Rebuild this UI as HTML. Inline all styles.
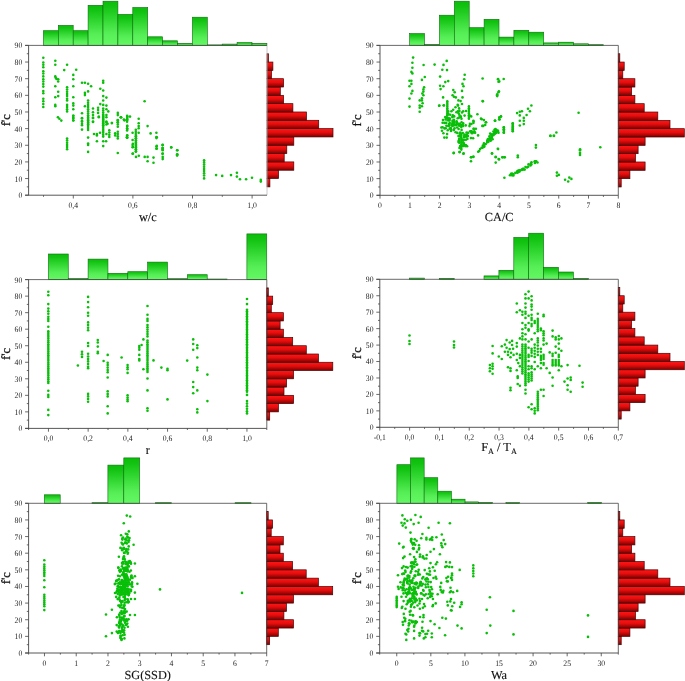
<!DOCTYPE html>
<html><head><meta charset="utf-8"><title>f'c scatter matrix</title>
<style>html,body{margin:0;padding:0;background:#fff}body{width:685px;height:681px;overflow:hidden}svg{display:block}</style>
</head><body>
<svg width="685" height="681" viewBox="0 0 685 681" text-rendering="geometricPrecision" font-family="'Liberation Serif','DejaVu Serif',serif">
<defs>
<linearGradient id="gg" x1="0" y1="0" x2="0" y2="1"><stop offset="0" stop-color="#0bbd0b"/><stop offset="0.12" stop-color="#12c312"/><stop offset="0.72" stop-color="#56ee56"/><stop offset="1" stop-color="#64f864"/></linearGradient>
<linearGradient id="rg" x1="0" y1="0" x2="0" y2="1"><stop offset="0" stop-color="#ff1717"/><stop offset="0.45" stop-color="#e60d0d"/><stop offset="1" stop-color="#7c0000"/></linearGradient>
</defs>
<rect width="685" height="681" fill="#fff"/>
<g id="p1"><rect x="43.40" y="30.70" width="14.90" height="14.70" fill="url(#gg)" stroke="#0a6e0a" stroke-width="0.6"/>
<rect x="58.30" y="25.40" width="14.90" height="20.00" fill="url(#gg)" stroke="#0a6e0a" stroke-width="0.6"/>
<rect x="73.20" y="30.70" width="14.90" height="14.70" fill="url(#gg)" stroke="#0a6e0a" stroke-width="0.6"/>
<rect x="88.10" y="5.30" width="14.90" height="40.10" fill="url(#gg)" stroke="#0a6e0a" stroke-width="0.6"/>
<rect x="103.00" y="1.20" width="14.90" height="44.20" fill="url(#gg)" stroke="#0a6e0a" stroke-width="0.6"/>
<rect x="117.90" y="14.40" width="14.90" height="31.00" fill="url(#gg)" stroke="#0a6e0a" stroke-width="0.6"/>
<rect x="132.80" y="7.50" width="14.90" height="37.90" fill="url(#gg)" stroke="#0a6e0a" stroke-width="0.6"/>
<rect x="147.70" y="36.80" width="14.90" height="8.60" fill="url(#gg)" stroke="#0a6e0a" stroke-width="0.6"/>
<rect x="162.60" y="40.80" width="14.90" height="4.60" fill="url(#gg)" stroke="#0a6e0a" stroke-width="0.6"/>
<rect x="177.50" y="43.30" width="14.90" height="2.10" fill="url(#gg)" stroke="#0a6e0a" stroke-width="0.6"/>
<rect x="192.40" y="17.20" width="14.90" height="28.20" fill="url(#gg)" stroke="#0a6e0a" stroke-width="0.6"/>
<rect x="207.30" y="44.90" width="14.90" height="0.50" fill="url(#gg)" stroke="#0a6e0a" stroke-width="0.6"/>
<rect x="222.20" y="44.10" width="14.90" height="1.30" fill="url(#gg)" stroke="#0a6e0a" stroke-width="0.6"/>
<rect x="237.10" y="42.60" width="14.90" height="2.80" fill="url(#gg)" stroke="#0a6e0a" stroke-width="0.6"/>
<rect x="252.00" y="43.30" width="14.90" height="2.10" fill="url(#gg)" stroke="#0a6e0a" stroke-width="0.6"/>
<rect x="267.00" y="178.56" width="2.90" height="8.32" fill="url(#rg)" stroke="#4a0000" stroke-width="0.7"/>
<rect x="267.00" y="170.23" width="11.60" height="8.32" fill="url(#rg)" stroke="#4a0000" stroke-width="0.7"/>
<rect x="267.00" y="161.91" width="26.80" height="8.32" fill="url(#rg)" stroke="#4a0000" stroke-width="0.7"/>
<rect x="267.00" y="153.59" width="17.20" height="8.32" fill="url(#rg)" stroke="#4a0000" stroke-width="0.7"/>
<rect x="267.00" y="145.27" width="19.80" height="8.32" fill="url(#rg)" stroke="#4a0000" stroke-width="0.7"/>
<rect x="267.00" y="136.94" width="26.80" height="8.32" fill="url(#rg)" stroke="#4a0000" stroke-width="0.7"/>
<rect x="267.00" y="128.62" width="66.00" height="8.32" fill="url(#rg)" stroke="#4a0000" stroke-width="0.7"/>
<rect x="267.00" y="120.30" width="51.70" height="8.32" fill="url(#rg)" stroke="#4a0000" stroke-width="0.7"/>
<rect x="267.00" y="111.98" width="39.50" height="8.32" fill="url(#rg)" stroke="#4a0000" stroke-width="0.7"/>
<rect x="267.00" y="103.66" width="25.90" height="8.32" fill="url(#rg)" stroke="#4a0000" stroke-width="0.7"/>
<rect x="267.00" y="95.33" width="16.60" height="8.32" fill="url(#rg)" stroke="#4a0000" stroke-width="0.7"/>
<rect x="267.00" y="87.01" width="13.30" height="8.32" fill="url(#rg)" stroke="#4a0000" stroke-width="0.7"/>
<rect x="267.00" y="78.69" width="16.60" height="8.32" fill="url(#rg)" stroke="#4a0000" stroke-width="0.7"/>
<rect x="267.00" y="70.37" width="4.50" height="8.32" fill="url(#rg)" stroke="#4a0000" stroke-width="0.7"/>
<rect x="267.00" y="62.04" width="5.90" height="8.32" fill="url(#rg)" stroke="#4a0000" stroke-width="0.7"/>
<rect x="267.00" y="53.72" width="1.50" height="8.32" fill="url(#rg)" stroke="#4a0000" stroke-width="0.7"/>
<path d="M267.00 45.40V195.20" stroke="#bdbdbd" stroke-width="0.8" fill="none"/>
<path d="M25.10 45.40H267.00" stroke="#444" stroke-width="0.8" fill="none"/>
<path d="M28.60 45.40V195.20M25.10 195.20H267.00" stroke="#444" stroke-width="0.9" fill="none"/>
<path d="M25.10 195.20H28.60M26.80 186.88H28.60M25.10 178.56H28.60M26.80 170.23H28.60M25.10 161.91H28.60M26.80 153.59H28.60M25.10 145.27H28.60M26.80 136.94H28.60M25.10 128.62H28.60M26.80 120.30H28.60M25.10 111.98H28.60M26.80 103.66H28.60M25.10 95.33H28.60M26.80 87.01H28.60M25.10 78.69H28.60M26.80 70.37H28.60M25.10 62.04H28.60M26.80 53.72H28.60M25.10 45.40H28.60M73.30 195.20v3.3M132.90 195.20v3.3M192.50 195.20v3.3M252.10 195.20v3.3M43.50 195.20v1.6M103.10 195.20v1.6M162.70 195.20v1.6M222.30 195.20v1.6" stroke="#444" stroke-width="0.8" fill="none"/>
<g font-size="8.35" fill="#1a1a1a"><text transform="translate(22.30 198.15) scale(0.92 1)" text-anchor="end">0</text><text transform="translate(22.30 181.51) scale(0.92 1)" text-anchor="end">10</text><text transform="translate(22.30 164.86) scale(0.92 1)" text-anchor="end">20</text><text transform="translate(22.30 148.22) scale(0.92 1)" text-anchor="end">30</text><text transform="translate(22.30 131.57) scale(0.92 1)" text-anchor="end">40</text><text transform="translate(22.30 114.93) scale(0.92 1)" text-anchor="end">50</text><text transform="translate(22.30 98.28) scale(0.92 1)" text-anchor="end">60</text><text transform="translate(22.30 81.64) scale(0.92 1)" text-anchor="end">70</text><text transform="translate(22.30 64.99) scale(0.92 1)" text-anchor="end">80</text><text transform="translate(22.30 48.35) scale(0.92 1)" text-anchor="end">90</text><text transform="translate(73.30 208.10) scale(0.92 1)" text-anchor="middle">0,4</text><text transform="translate(132.90 208.10) scale(0.92 1)" text-anchor="middle">0,6</text><text transform="translate(192.50 208.10) scale(0.92 1)" text-anchor="middle">0,8</text><text transform="translate(252.10 208.10) scale(0.92 1)" text-anchor="middle">1,0</text></g>
<text x="147.80" y="220.90" text-anchor="middle" font-size="12.3" fill="#111" stroke="#111" stroke-width="0.12">w/c</text>
<text transform="translate(10.00 120.30) rotate(-90)" text-anchor="middle" font-size="12.6" fill="#111" stroke="#111" stroke-width="0.25">f'c</text>
<g fill="#09bf09"><circle cx="43.3" cy="57.7" r="1.3"/><circle cx="43.3" cy="62.5" r="1.3"/><circle cx="43.3" cy="64.7" r="1.3"/><circle cx="43.3" cy="67.2" r="1.3"/><circle cx="43.3" cy="71.3" r="1.3"/><circle cx="43.3" cy="73.5" r="1.3"/><circle cx="43.3" cy="76.4" r="1.3"/><circle cx="43.3" cy="79.3" r="1.3"/><circle cx="43.3" cy="81.5" r="1.3"/><circle cx="43.3" cy="84.1" r="1.3"/><circle cx="43.3" cy="86.6" r="1.3"/><circle cx="43.3" cy="91.0" r="1.3"/><circle cx="43.3" cy="93.2" r="1.3"/><circle cx="43.3" cy="98.7" r="1.3"/><circle cx="43.3" cy="101.2" r="1.3"/><circle cx="43.3" cy="104.1" r="1.3"/><circle cx="43.3" cy="107.0" r="1.3"/><circle cx="55.3" cy="60.8" r="1.3"/><circle cx="55.3" cy="64.7" r="1.3"/><circle cx="55.3" cy="76.4" r="1.3"/><circle cx="55.7" cy="77.8" r="1.3"/><circle cx="55.3" cy="86.3" r="1.3"/><circle cx="55.3" cy="97.3" r="1.3"/><circle cx="55.3" cy="104.9" r="1.3"/><circle cx="55.3" cy="106.3" r="1.3"/><circle cx="56.5" cy="78.9" r="1.3"/><circle cx="58.2" cy="79.3" r="1.3"/><circle cx="58.2" cy="81.5" r="1.3"/><circle cx="58.2" cy="91.7" r="1.3"/><circle cx="58.2" cy="96.1" r="1.3"/><circle cx="57.9" cy="117.3" r="1.3"/><circle cx="59.4" cy="118.7" r="1.3"/><circle cx="61.3" cy="120.6" r="1.3"/><circle cx="67.1" cy="64.7" r="1.3"/><circle cx="64.2" cy="70.1" r="1.3"/><circle cx="67.1" cy="87.3" r="1.3"/><circle cx="67.1" cy="89.5" r="1.3"/><circle cx="67.1" cy="91.7" r="1.3"/><circle cx="67.1" cy="93.9" r="1.3"/><circle cx="67.1" cy="96.1" r="1.3"/><circle cx="67.1" cy="98.7" r="1.3"/><circle cx="67.1" cy="100.5" r="1.3"/><circle cx="67.1" cy="104.9" r="1.3"/><circle cx="67.1" cy="107.0" r="1.3"/><circle cx="67.1" cy="109.2" r="1.3"/><circle cx="67.1" cy="111.4" r="1.3"/><circle cx="73.3" cy="74.9" r="1.3"/><circle cx="73.3" cy="79.3" r="1.3"/><circle cx="73.3" cy="86.3" r="1.3"/><circle cx="73.3" cy="97.3" r="1.3"/><circle cx="73.3" cy="103.4" r="1.3"/><circle cx="73.3" cy="105.6" r="1.3"/><circle cx="73.3" cy="109.2" r="1.3"/><circle cx="73.3" cy="115.8" r="1.3"/><circle cx="73.3" cy="118.0" r="1.3"/><circle cx="73.3" cy="120.2" r="1.3"/><circle cx="76.2" cy="69.8" r="1.3"/><circle cx="82.0" cy="82.7" r="1.3"/><circle cx="84.9" cy="82.7" r="1.3"/><circle cx="88.1" cy="83.7" r="1.3"/><circle cx="91.1" cy="86.3" r="1.3"/><circle cx="84.9" cy="92.9" r="1.3"/><circle cx="84.9" cy="95.1" r="1.3"/><circle cx="88.1" cy="91.4" r="1.3"/><circle cx="88.1" cy="100.5" r="1.3"/><circle cx="88.1" cy="102.7" r="1.3"/><circle cx="88.1" cy="104.9" r="1.3"/><circle cx="88.1" cy="107.0" r="1.3"/><circle cx="88.1" cy="109.2" r="1.3"/><circle cx="88.1" cy="111.4" r="1.3"/><circle cx="88.1" cy="113.6" r="1.3"/><circle cx="88.1" cy="115.8" r="1.3"/><circle cx="88.1" cy="118.0" r="1.3"/><circle cx="88.1" cy="120.2" r="1.3"/><circle cx="88.1" cy="122.4" r="1.3"/><circle cx="88.1" cy="124.6" r="1.3"/><circle cx="84.9" cy="106.3" r="1.3"/><circle cx="82.0" cy="113.3" r="1.3"/><circle cx="82.0" cy="118.0" r="1.3"/><circle cx="82.0" cy="120.9" r="1.3"/><circle cx="82.0" cy="123.8" r="1.3"/><circle cx="93.0" cy="108.5" r="1.3"/><circle cx="93.0" cy="112.2" r="1.3"/><circle cx="93.0" cy="115.1" r="1.3"/><circle cx="93.0" cy="118.0" r="1.3"/><circle cx="93.0" cy="121.6" r="1.3"/><circle cx="103.2" cy="80.8" r="1.3"/><circle cx="103.2" cy="82.7" r="1.3"/><circle cx="100.3" cy="88.8" r="1.3"/><circle cx="103.2" cy="90.5" r="1.3"/><circle cx="103.2" cy="96.1" r="1.3"/><circle cx="106.4" cy="97.6" r="1.3"/><circle cx="103.2" cy="100.5" r="1.3"/><circle cx="100.3" cy="104.1" r="1.3"/><circle cx="103.2" cy="104.9" r="1.3"/><circle cx="106.4" cy="105.6" r="1.3"/><circle cx="103.2" cy="108.5" r="1.3"/><circle cx="103.2" cy="110.5" r="1.3"/><circle cx="103.2" cy="112.6" r="1.3"/><circle cx="103.2" cy="114.6" r="1.3"/><circle cx="103.2" cy="116.7" r="1.3"/><circle cx="103.2" cy="118.7" r="1.3"/><circle cx="103.2" cy="120.8" r="1.3"/><circle cx="103.2" cy="122.8" r="1.3"/><circle cx="103.2" cy="124.9" r="1.3"/><circle cx="106.4" cy="109.2" r="1.3"/><circle cx="108.3" cy="111.4" r="1.3"/><circle cx="98.1" cy="107.8" r="1.3"/><circle cx="98.1" cy="110.0" r="1.3"/><circle cx="98.1" cy="112.9" r="1.3"/><circle cx="98.8" cy="116.5" r="1.3"/><circle cx="106.4" cy="115.1" r="1.3"/><circle cx="106.4" cy="117.3" r="1.3"/><circle cx="106.4" cy="121.6" r="1.3"/><circle cx="107.6" cy="123.8" r="1.3"/><circle cx="117.8" cy="112.9" r="1.3"/><circle cx="117.8" cy="115.1" r="1.3"/><circle cx="121.0" cy="117.3" r="1.3"/><circle cx="124.4" cy="120.2" r="1.3"/><circle cx="127.3" cy="116.5" r="1.3"/><circle cx="117.8" cy="120.2" r="1.3"/><circle cx="117.8" cy="122.4" r="1.3"/><circle cx="111.9" cy="123.1" r="1.3"/><circle cx="73.3" cy="115.7" r="1.3"/><circle cx="73.3" cy="117.9" r="1.3"/><circle cx="73.3" cy="120.5" r="1.3"/><circle cx="82.0" cy="118.2" r="1.3"/><circle cx="82.0" cy="121.6" r="1.3"/><circle cx="82.0" cy="125.2" r="1.3"/><circle cx="82.0" cy="129.6" r="1.3"/><circle cx="88.1" cy="115.7" r="1.3"/><circle cx="88.1" cy="117.8" r="1.3"/><circle cx="88.1" cy="119.8" r="1.3"/><circle cx="88.1" cy="121.9" r="1.3"/><circle cx="88.1" cy="123.9" r="1.3"/><circle cx="88.1" cy="125.9" r="1.3"/><circle cx="88.1" cy="128.0" r="1.3"/><circle cx="88.1" cy="130.0" r="1.3"/><circle cx="88.1" cy="137.6" r="1.3"/><circle cx="88.1" cy="143.5" r="1.3"/><circle cx="88.1" cy="144.9" r="1.3"/><circle cx="88.1" cy="151.9" r="1.3"/><circle cx="67.1" cy="138.6" r="1.3"/><circle cx="67.1" cy="140.5" r="1.3"/><circle cx="67.1" cy="142.7" r="1.3"/><circle cx="67.1" cy="144.9" r="1.3"/><circle cx="67.1" cy="147.1" r="1.3"/><circle cx="67.1" cy="149.3" r="1.3"/><circle cx="93.0" cy="117.9" r="1.3"/><circle cx="93.0" cy="122.0" r="1.3"/><circle cx="98.8" cy="117.2" r="1.3"/><circle cx="103.2" cy="115.7" r="1.3"/><circle cx="103.2" cy="117.6" r="1.3"/><circle cx="103.2" cy="119.5" r="1.3"/><circle cx="103.2" cy="121.4" r="1.3"/><circle cx="103.2" cy="123.3" r="1.3"/><circle cx="103.2" cy="125.2" r="1.3"/><circle cx="103.2" cy="127.1" r="1.3"/><circle cx="103.2" cy="129.0" r="1.3"/><circle cx="103.2" cy="130.9" r="1.3"/><circle cx="103.2" cy="132.8" r="1.3"/><circle cx="103.2" cy="134.7" r="1.3"/><circle cx="103.2" cy="136.6" r="1.3"/><circle cx="103.2" cy="141.3" r="1.3"/><circle cx="106.1" cy="141.3" r="1.3"/><circle cx="103.2" cy="146.1" r="1.3"/><circle cx="106.4" cy="122.3" r="1.3"/><circle cx="106.4" cy="124.5" r="1.3"/><circle cx="111.9" cy="123.0" r="1.3"/><circle cx="94.0" cy="134.0" r="1.3"/><circle cx="96.9" cy="134.0" r="1.3"/><circle cx="96.9" cy="135.4" r="1.3"/><circle cx="100.0" cy="132.8" r="1.3"/><circle cx="96.9" cy="141.3" r="1.3"/><circle cx="106.4" cy="134.0" r="1.3"/><circle cx="109.3" cy="130.3" r="1.3"/><circle cx="109.3" cy="132.5" r="1.3"/><circle cx="109.3" cy="134.7" r="1.3"/><circle cx="109.3" cy="136.9" r="1.3"/><circle cx="115.2" cy="133.2" r="1.3"/><circle cx="115.2" cy="135.4" r="1.3"/><circle cx="117.8" cy="120.1" r="1.3"/><circle cx="117.8" cy="122.3" r="1.3"/><circle cx="117.8" cy="124.5" r="1.3"/><circle cx="117.8" cy="126.7" r="1.3"/><circle cx="117.8" cy="131.8" r="1.3"/><circle cx="117.8" cy="134.0" r="1.3"/><circle cx="117.8" cy="136.2" r="1.3"/><circle cx="117.8" cy="138.4" r="1.3"/><circle cx="117.8" cy="153.0" r="1.3"/><circle cx="121.0" cy="117.2" r="1.3"/><circle cx="124.4" cy="120.1" r="1.3"/><circle cx="127.3" cy="117.9" r="1.3"/><circle cx="127.3" cy="120.1" r="1.3"/><circle cx="127.3" cy="125.9" r="1.3"/><circle cx="127.3" cy="128.9" r="1.3"/><circle cx="127.3" cy="135.4" r="1.3"/><circle cx="127.3" cy="137.6" r="1.3"/><circle cx="144.6" cy="101.3" r="1.3"/><circle cx="120.9" cy="117.3" r="1.3"/><circle cx="123.8" cy="119.5" r="1.3"/><circle cx="127.1" cy="115.9" r="1.3"/><circle cx="127.1" cy="119.5" r="1.3"/><circle cx="127.1" cy="121.7" r="1.3"/><circle cx="127.1" cy="126.1" r="1.3"/><circle cx="127.1" cy="128.3" r="1.3"/><circle cx="127.1" cy="130.5" r="1.3"/><circle cx="127.1" cy="135.6" r="1.3"/><circle cx="127.1" cy="137.8" r="1.3"/><circle cx="130.0" cy="116.6" r="1.3"/><circle cx="138.7" cy="118.8" r="1.3"/><circle cx="138.7" cy="123.2" r="1.3"/><circle cx="138.7" cy="126.1" r="1.3"/><circle cx="138.7" cy="128.3" r="1.3"/><circle cx="138.7" cy="132.7" r="1.3"/><circle cx="135.8" cy="129.7" r="1.3"/><circle cx="135.8" cy="131.9" r="1.3"/><circle cx="135.8" cy="134.1" r="1.3"/><circle cx="135.8" cy="136.3" r="1.3"/><circle cx="135.8" cy="138.5" r="1.3"/><circle cx="135.8" cy="140.7" r="1.3"/><circle cx="135.8" cy="142.9" r="1.3"/><circle cx="135.8" cy="145.1" r="1.3"/><circle cx="135.8" cy="147.3" r="1.3"/><circle cx="135.8" cy="149.5" r="1.3"/><circle cx="135.8" cy="151.6" r="1.3"/><circle cx="132.6" cy="132.7" r="1.3"/><circle cx="132.6" cy="140.0" r="1.3"/><circle cx="132.6" cy="145.1" r="1.3"/><circle cx="132.6" cy="147.3" r="1.3"/><circle cx="132.6" cy="153.8" r="1.3"/><circle cx="147.6" cy="126.1" r="1.3"/><circle cx="150.6" cy="133.4" r="1.3"/><circle cx="156.4" cy="132.7" r="1.3"/><circle cx="156.4" cy="137.0" r="1.3"/><circle cx="156.4" cy="138.1" r="1.3"/><circle cx="156.4" cy="146.5" r="1.3"/><circle cx="156.4" cy="148.7" r="1.3"/><circle cx="162.5" cy="145.1" r="1.3"/><circle cx="162.5" cy="148.0" r="1.3"/><circle cx="162.5" cy="149.5" r="1.3"/><circle cx="162.5" cy="153.8" r="1.3"/><circle cx="171.3" cy="147.3" r="1.3"/><circle cx="177.4" cy="150.2" r="1.3"/><circle cx="177.4" cy="154.6" r="1.3"/><circle cx="126.8" cy="137.2" r="1.3"/><circle cx="132.9" cy="143.8" r="1.3"/><circle cx="132.9" cy="147.0" r="1.3"/><circle cx="132.9" cy="153.6" r="1.3"/><circle cx="136.0" cy="156.9" r="1.3"/><circle cx="138.8" cy="155.8" r="1.3"/><circle cx="144.7" cy="156.9" r="1.3"/><circle cx="147.6" cy="156.9" r="1.3"/><circle cx="147.6" cy="161.3" r="1.3"/><circle cx="153.5" cy="157.6" r="1.3"/><circle cx="153.5" cy="162.8" r="1.3"/><circle cx="156.8" cy="137.2" r="1.3"/><circle cx="156.8" cy="145.9" r="1.3"/><circle cx="156.8" cy="148.6" r="1.3"/><circle cx="162.7" cy="144.9" r="1.3"/><circle cx="162.7" cy="148.1" r="1.3"/><circle cx="162.7" cy="150.3" r="1.3"/><circle cx="162.7" cy="153.6" r="1.3"/><circle cx="162.7" cy="156.9" r="1.3"/><circle cx="162.7" cy="159.1" r="1.3"/><circle cx="171.2" cy="147.5" r="1.3"/><circle cx="177.1" cy="150.3" r="1.3"/><circle cx="177.1" cy="154.3" r="1.3"/><circle cx="177.1" cy="155.6" r="1.3"/><circle cx="204.1" cy="160.2" r="1.3"/><circle cx="204.1" cy="162.4" r="1.3"/><circle cx="204.1" cy="164.6" r="1.3"/><circle cx="204.1" cy="166.7" r="1.3"/><circle cx="204.1" cy="168.9" r="1.3"/><circle cx="204.1" cy="171.1" r="1.3"/><circle cx="204.1" cy="173.3" r="1.3"/><circle cx="204.1" cy="175.5" r="1.3"/><circle cx="204.1" cy="178.4" r="1.3"/><circle cx="216.1" cy="175.1" r="1.3"/><circle cx="222.2" cy="175.9" r="1.3"/><circle cx="231.0" cy="175.1" r="1.3"/><circle cx="236.9" cy="172.7" r="1.3"/><circle cx="236.9" cy="176.6" r="1.3"/><circle cx="240.0" cy="179.2" r="1.3"/><circle cx="246.1" cy="179.2" r="1.3"/><circle cx="252.0" cy="177.7" r="1.3"/><circle cx="260.8" cy="179.9" r="1.3"/><circle cx="260.8" cy="181.6" r="1.3"/><circle cx="136.0" cy="136.1" r="1.3"/><circle cx="136.0" cy="138.3" r="1.3"/><circle cx="136.0" cy="140.5" r="1.3"/><circle cx="136.0" cy="142.7" r="1.3"/><circle cx="136.0" cy="144.9" r="1.3"/><circle cx="136.0" cy="147.0" r="1.3"/><circle cx="136.0" cy="149.2" r="1.3"/><circle cx="136.0" cy="151.4" r="1.3"/></g></g>
<g id="p2"><rect x="409.60" y="33.60" width="14.90" height="11.80" fill="url(#gg)" stroke="#0a6e0a" stroke-width="0.6"/>
<rect x="424.50" y="44.30" width="14.90" height="1.10" fill="url(#gg)" stroke="#0a6e0a" stroke-width="0.6"/>
<rect x="439.40" y="15.20" width="14.90" height="30.20" fill="url(#gg)" stroke="#0a6e0a" stroke-width="0.6"/>
<rect x="454.30" y="1.20" width="14.90" height="44.20" fill="url(#gg)" stroke="#0a6e0a" stroke-width="0.6"/>
<rect x="469.20" y="27.70" width="14.90" height="17.70" fill="url(#gg)" stroke="#0a6e0a" stroke-width="0.6"/>
<rect x="484.10" y="19.30" width="14.90" height="26.10" fill="url(#gg)" stroke="#0a6e0a" stroke-width="0.6"/>
<rect x="499.00" y="37.10" width="14.90" height="8.30" fill="url(#gg)" stroke="#0a6e0a" stroke-width="0.6"/>
<rect x="513.90" y="30.30" width="14.90" height="15.10" fill="url(#gg)" stroke="#0a6e0a" stroke-width="0.6"/>
<rect x="528.80" y="32.20" width="14.90" height="13.20" fill="url(#gg)" stroke="#0a6e0a" stroke-width="0.6"/>
<rect x="543.70" y="42.90" width="14.90" height="2.50" fill="url(#gg)" stroke="#0a6e0a" stroke-width="0.6"/>
<rect x="558.60" y="42.20" width="14.90" height="3.20" fill="url(#gg)" stroke="#0a6e0a" stroke-width="0.6"/>
<rect x="573.50" y="43.80" width="14.90" height="1.60" fill="url(#gg)" stroke="#0a6e0a" stroke-width="0.6"/>
<rect x="588.40" y="44.70" width="14.90" height="0.70" fill="url(#gg)" stroke="#0a6e0a" stroke-width="0.6"/>
<rect x="618.30" y="178.64" width="2.90" height="8.33" fill="url(#rg)" stroke="#4a0000" stroke-width="0.7"/>
<rect x="618.30" y="170.32" width="11.60" height="8.33" fill="url(#rg)" stroke="#4a0000" stroke-width="0.7"/>
<rect x="618.30" y="161.99" width="26.80" height="8.33" fill="url(#rg)" stroke="#4a0000" stroke-width="0.7"/>
<rect x="618.30" y="153.66" width="17.20" height="8.33" fill="url(#rg)" stroke="#4a0000" stroke-width="0.7"/>
<rect x="618.30" y="145.33" width="19.80" height="8.33" fill="url(#rg)" stroke="#4a0000" stroke-width="0.7"/>
<rect x="618.30" y="137.01" width="26.80" height="8.33" fill="url(#rg)" stroke="#4a0000" stroke-width="0.7"/>
<rect x="618.30" y="128.68" width="66.00" height="8.33" fill="url(#rg)" stroke="#4a0000" stroke-width="0.7"/>
<rect x="618.30" y="120.35" width="51.70" height="8.33" fill="url(#rg)" stroke="#4a0000" stroke-width="0.7"/>
<rect x="618.30" y="112.02" width="39.50" height="8.33" fill="url(#rg)" stroke="#4a0000" stroke-width="0.7"/>
<rect x="618.30" y="103.69" width="25.90" height="8.33" fill="url(#rg)" stroke="#4a0000" stroke-width="0.7"/>
<rect x="618.30" y="95.37" width="16.60" height="8.33" fill="url(#rg)" stroke="#4a0000" stroke-width="0.7"/>
<rect x="618.30" y="87.04" width="13.30" height="8.33" fill="url(#rg)" stroke="#4a0000" stroke-width="0.7"/>
<rect x="618.30" y="78.71" width="16.60" height="8.33" fill="url(#rg)" stroke="#4a0000" stroke-width="0.7"/>
<rect x="618.30" y="70.38" width="4.50" height="8.33" fill="url(#rg)" stroke="#4a0000" stroke-width="0.7"/>
<rect x="618.30" y="62.06" width="5.90" height="8.33" fill="url(#rg)" stroke="#4a0000" stroke-width="0.7"/>
<rect x="618.30" y="53.73" width="1.50" height="8.33" fill="url(#rg)" stroke="#4a0000" stroke-width="0.7"/>
<path d="M618.30 45.40V195.30" stroke="#444" stroke-width="0.8" fill="none"/>
<path d="M376.50 45.40H618.30" stroke="#444" stroke-width="0.8" fill="none"/>
<path d="M380.00 45.40V195.30M376.50 195.30H618.30" stroke="#444" stroke-width="0.9" fill="none"/>
<path d="M376.50 195.30H380.00M378.20 186.97H380.00M376.50 178.64H380.00M378.20 170.32H380.00M376.50 161.99H380.00M378.20 153.66H380.00M376.50 145.33H380.00M378.20 137.01H380.00M376.50 128.68H380.00M378.20 120.35H380.00M376.50 112.02H380.00M378.20 103.69H380.00M376.50 95.37H380.00M378.20 87.04H380.00M376.50 78.71H380.00M378.20 70.38H380.00M376.50 62.06H380.00M378.20 53.73H380.00M376.50 45.40H380.00M380.00 195.30v3.3M409.79 195.30v3.3M439.57 195.30v3.3M469.36 195.30v3.3M499.15 195.30v3.3M528.94 195.30v3.3M558.72 195.30v3.3M588.51 195.30v3.3M618.30 195.30v3.3M394.89 195.30v1.6M424.68 195.30v1.6M454.47 195.30v1.6M484.26 195.30v1.6M514.04 195.30v1.6M543.83 195.30v1.6M573.62 195.30v1.6M603.41 195.30v1.6" stroke="#444" stroke-width="0.8" fill="none"/>
<g font-size="8.35" fill="#1a1a1a"><text transform="translate(373.70 198.25) scale(0.92 1)" text-anchor="end">0</text><text transform="translate(373.70 181.59) scale(0.92 1)" text-anchor="end">10</text><text transform="translate(373.70 164.94) scale(0.92 1)" text-anchor="end">20</text><text transform="translate(373.70 148.28) scale(0.92 1)" text-anchor="end">30</text><text transform="translate(373.70 131.63) scale(0.92 1)" text-anchor="end">40</text><text transform="translate(373.70 114.97) scale(0.92 1)" text-anchor="end">50</text><text transform="translate(373.70 98.32) scale(0.92 1)" text-anchor="end">60</text><text transform="translate(373.70 81.66) scale(0.92 1)" text-anchor="end">70</text><text transform="translate(373.70 65.01) scale(0.92 1)" text-anchor="end">80</text><text transform="translate(373.70 48.35) scale(0.92 1)" text-anchor="end">90</text><text transform="translate(380.00 208.20) scale(0.92 1)" text-anchor="middle">0</text><text transform="translate(409.79 208.20) scale(0.92 1)" text-anchor="middle">1</text><text transform="translate(439.57 208.20) scale(0.92 1)" text-anchor="middle">2</text><text transform="translate(469.36 208.20) scale(0.92 1)" text-anchor="middle">3</text><text transform="translate(499.15 208.20) scale(0.92 1)" text-anchor="middle">4</text><text transform="translate(528.94 208.20) scale(0.92 1)" text-anchor="middle">5</text><text transform="translate(558.72 208.20) scale(0.92 1)" text-anchor="middle">6</text><text transform="translate(588.51 208.20) scale(0.92 1)" text-anchor="middle">7</text><text transform="translate(618.30 208.20) scale(0.92 1)" text-anchor="middle">8</text></g>
<text x="499.15" y="221.00" text-anchor="middle" font-size="12.3" fill="#111" stroke="#111" stroke-width="0.12">CA/C</text>
<text transform="translate(361.40 120.35) rotate(-90)" text-anchor="middle" font-size="12.6" fill="#111" stroke="#111" stroke-width="0.25">f'c</text>
<g fill="#09bf09"><circle cx="413.1" cy="57.6" r="1.3"/><circle cx="412.4" cy="62.8" r="1.3"/><circle cx="412.4" cy="67.8" r="1.3"/><circle cx="411.4" cy="71.9" r="1.3"/><circle cx="412.4" cy="73.4" r="1.3"/><circle cx="409.5" cy="80.7" r="1.3"/><circle cx="411.4" cy="80.7" r="1.3"/><circle cx="411.4" cy="83.9" r="1.3"/><circle cx="409.5" cy="86.2" r="1.3"/><circle cx="412.4" cy="90.9" r="1.3"/><circle cx="411.4" cy="93.5" r="1.3"/><circle cx="409.5" cy="98.6" r="1.3"/><circle cx="409.5" cy="106.6" r="1.3"/><circle cx="423.6" cy="65.0" r="1.3"/><circle cx="424.8" cy="77.0" r="1.3"/><circle cx="421.9" cy="79.9" r="1.3"/><circle cx="424.1" cy="87.2" r="1.3"/><circle cx="423.4" cy="89.4" r="1.3"/><circle cx="423.4" cy="91.6" r="1.3"/><circle cx="422.3" cy="93.5" r="1.3"/><circle cx="423.4" cy="95.3" r="1.3"/><circle cx="421.9" cy="98.2" r="1.3"/><circle cx="419.7" cy="100.4" r="1.3"/><circle cx="421.9" cy="100.4" r="1.3"/><circle cx="422.6" cy="103.3" r="1.3"/><circle cx="419.7" cy="105.5" r="1.3"/><circle cx="421.9" cy="106.2" r="1.3"/><circle cx="419.7" cy="107.7" r="1.3"/><circle cx="419.7" cy="111.8" r="1.3"/><circle cx="434.6" cy="64.6" r="1.3"/><circle cx="446.7" cy="60.9" r="1.3"/><circle cx="443.5" cy="64.9" r="1.3"/><circle cx="442.3" cy="69.7" r="1.3"/><circle cx="447.0" cy="70.1" r="1.3"/><circle cx="440.1" cy="76.6" r="1.3"/><circle cx="445.3" cy="82.1" r="1.3"/><circle cx="448.2" cy="81.1" r="1.3"/><circle cx="440.1" cy="85.8" r="1.3"/><circle cx="443.4" cy="86.2" r="1.3"/><circle cx="440.6" cy="89.1" r="1.3"/><circle cx="443.1" cy="97.4" r="1.3"/><circle cx="439.4" cy="105.5" r="1.3"/><circle cx="443.8" cy="105.5" r="1.3"/><circle cx="464.7" cy="74.8" r="1.3"/><circle cx="464.2" cy="79.2" r="1.3"/><circle cx="462.5" cy="83.9" r="1.3"/><circle cx="463.5" cy="86.2" r="1.3"/><circle cx="462.0" cy="90.9" r="1.3"/><circle cx="462.5" cy="97.4" r="1.3"/><circle cx="482.6" cy="78.5" r="1.3"/><circle cx="482.6" cy="101.1" r="1.3"/><circle cx="498.1" cy="79.2" r="1.3"/><circle cx="499.3" cy="81.4" r="1.3"/><circle cx="498.5" cy="92.3" r="1.3"/><circle cx="497.1" cy="95.3" r="1.3"/><circle cx="453.3" cy="90.1" r="1.3"/><circle cx="454.7" cy="92.3" r="1.3"/><circle cx="452.6" cy="95.3" r="1.3"/><circle cx="454.0" cy="96.7" r="1.3"/><circle cx="455.8" cy="97.4" r="1.3"/><circle cx="458.4" cy="100.4" r="1.3"/><circle cx="460.6" cy="101.1" r="1.3"/><circle cx="457.7" cy="104.7" r="1.3"/><circle cx="462.0" cy="104.0" r="1.3"/><circle cx="459.1" cy="108.4" r="1.3"/><circle cx="462.0" cy="112.5" r="1.3"/><circle cx="477.4" cy="114.2" r="1.3"/><circle cx="481.0" cy="118.6" r="1.3"/><circle cx="483.9" cy="120.1" r="1.3"/><circle cx="486.1" cy="122.3" r="1.3"/><circle cx="483.2" cy="125.9" r="1.3"/><circle cx="494.9" cy="120.8" r="1.3"/><circle cx="499.3" cy="117.2" r="1.3"/><circle cx="449.3" cy="124.9" r="1.3"/><circle cx="449.5" cy="118.6" r="1.3"/><circle cx="445.6" cy="119.4" r="1.3"/><circle cx="457.0" cy="124.2" r="1.3"/><circle cx="456.6" cy="122.9" r="1.3"/><circle cx="453.0" cy="122.4" r="1.3"/><circle cx="441.4" cy="127.5" r="1.3"/><circle cx="453.6" cy="124.8" r="1.3"/><circle cx="445.8" cy="117.5" r="1.3"/><circle cx="452.5" cy="120.7" r="1.3"/><circle cx="453.7" cy="116.1" r="1.3"/><circle cx="452.5" cy="124.0" r="1.3"/><circle cx="447.1" cy="134.1" r="1.3"/><circle cx="453.9" cy="130.1" r="1.3"/><circle cx="447.3" cy="115.4" r="1.3"/><circle cx="448.8" cy="120.2" r="1.3"/><circle cx="454.3" cy="122.9" r="1.3"/><circle cx="448.3" cy="113.8" r="1.3"/><circle cx="447.8" cy="130.3" r="1.3"/><circle cx="446.2" cy="122.9" r="1.3"/><circle cx="453.2" cy="109.7" r="1.3"/><circle cx="451.0" cy="130.9" r="1.3"/><circle cx="450.2" cy="114.8" r="1.3"/><circle cx="453.6" cy="120.5" r="1.3"/><circle cx="442.6" cy="127.3" r="1.3"/><circle cx="454.5" cy="128.2" r="1.3"/><circle cx="458.8" cy="123.8" r="1.3"/><circle cx="451.4" cy="111.2" r="1.3"/><circle cx="454.2" cy="116.4" r="1.3"/><circle cx="448.2" cy="111.4" r="1.3"/><circle cx="445.3" cy="117.0" r="1.3"/><circle cx="458.0" cy="105.6" r="1.3"/><circle cx="442.6" cy="122.8" r="1.3"/><circle cx="458.9" cy="125.4" r="1.3"/><circle cx="452.8" cy="115.4" r="1.3"/><circle cx="444.5" cy="128.4" r="1.3"/><circle cx="456.9" cy="122.2" r="1.3"/><circle cx="452.1" cy="124.3" r="1.3"/><circle cx="459.7" cy="125.7" r="1.3"/><circle cx="453.7" cy="125.2" r="1.3"/><circle cx="442.0" cy="130.8" r="1.3"/><circle cx="456.1" cy="125.0" r="1.3"/><circle cx="455.5" cy="107.3" r="1.3"/><circle cx="449.7" cy="128.8" r="1.3"/><circle cx="443.4" cy="133.2" r="1.3"/><circle cx="453.9" cy="119.9" r="1.3"/><circle cx="452.6" cy="126.0" r="1.3"/><circle cx="451.4" cy="129.7" r="1.3"/><circle cx="447.1" cy="117.9" r="1.3"/><circle cx="456.6" cy="121.2" r="1.3"/><circle cx="445.8" cy="128.2" r="1.3"/><circle cx="459.0" cy="117.6" r="1.3"/><circle cx="443.0" cy="120.0" r="1.3"/><circle cx="449.9" cy="118.8" r="1.3"/><circle cx="458.6" cy="113.2" r="1.3"/><circle cx="457.8" cy="111.4" r="1.3"/><circle cx="446.4" cy="125.8" r="1.3"/><circle cx="457.1" cy="127.5" r="1.3"/><circle cx="452.7" cy="122.1" r="1.3"/><circle cx="451.6" cy="125.4" r="1.3"/><circle cx="449.8" cy="123.1" r="1.3"/><circle cx="454.0" cy="121.0" r="1.3"/><circle cx="455.0" cy="125.3" r="1.3"/><circle cx="448.4" cy="118.2" r="1.3"/><circle cx="450.7" cy="128.0" r="1.3"/><circle cx="448.9" cy="124.0" r="1.3"/><circle cx="444.5" cy="122.9" r="1.3"/><circle cx="453.0" cy="122.8" r="1.3"/><circle cx="448.3" cy="126.0" r="1.3"/><circle cx="452.3" cy="117.1" r="1.3"/><circle cx="447.7" cy="120.3" r="1.3"/><circle cx="449.5" cy="120.5" r="1.3"/><circle cx="456.4" cy="112.2" r="1.3"/><circle cx="450.4" cy="128.3" r="1.3"/><circle cx="455.6" cy="132.3" r="1.3"/><circle cx="448.9" cy="125.8" r="1.3"/><circle cx="470.9" cy="138.1" r="1.3"/><circle cx="471.6" cy="133.1" r="1.3"/><circle cx="471.0" cy="131.2" r="1.3"/><circle cx="461.0" cy="125.0" r="1.3"/><circle cx="463.2" cy="111.3" r="1.3"/><circle cx="457.7" cy="118.3" r="1.3"/><circle cx="461.6" cy="129.9" r="1.3"/><circle cx="473.4" cy="123.0" r="1.3"/><circle cx="473.1" cy="138.2" r="1.3"/><circle cx="473.4" cy="120.7" r="1.3"/><circle cx="460.9" cy="116.9" r="1.3"/><circle cx="460.5" cy="116.2" r="1.3"/><circle cx="467.8" cy="135.7" r="1.3"/><circle cx="471.4" cy="124.0" r="1.3"/><circle cx="468.2" cy="132.9" r="1.3"/><circle cx="458.6" cy="129.0" r="1.3"/><circle cx="472.6" cy="132.4" r="1.3"/><circle cx="469.9" cy="123.9" r="1.3"/><circle cx="460.2" cy="132.6" r="1.3"/><circle cx="462.8" cy="133.0" r="1.3"/><circle cx="473.6" cy="121.6" r="1.3"/><circle cx="464.0" cy="137.0" r="1.3"/><circle cx="469.5" cy="115.3" r="1.3"/><circle cx="459.3" cy="114.7" r="1.3"/><circle cx="472.5" cy="133.1" r="1.3"/><circle cx="459.7" cy="133.7" r="1.3"/><circle cx="473.8" cy="128.9" r="1.3"/><circle cx="463.1" cy="125.9" r="1.3"/><circle cx="459.4" cy="110.9" r="1.3"/><circle cx="473.6" cy="128.7" r="1.3"/><circle cx="466.1" cy="136.7" r="1.3"/><circle cx="464.5" cy="134.9" r="1.3"/><circle cx="471.2" cy="116.4" r="1.3"/><circle cx="461.5" cy="118.7" r="1.3"/><circle cx="461.3" cy="126.9" r="1.3"/><circle cx="461.6" cy="122.3" r="1.3"/><circle cx="459.4" cy="136.0" r="1.3"/><circle cx="463.2" cy="123.4" r="1.3"/><circle cx="467.1" cy="135.9" r="1.3"/><circle cx="464.3" cy="136.2" r="1.3"/><circle cx="465.7" cy="125.4" r="1.3"/><circle cx="466.1" cy="111.0" r="1.3"/><circle cx="464.6" cy="115.6" r="1.3"/><circle cx="457.3" cy="132.9" r="1.3"/><circle cx="460.1" cy="123.8" r="1.3"/><circle cx="469.5" cy="126.1" r="1.3"/><circle cx="462.7" cy="125.0" r="1.3"/><circle cx="466.6" cy="132.5" r="1.3"/><circle cx="458.9" cy="140.6" r="1.3"/><circle cx="460.4" cy="136.6" r="1.3"/><circle cx="465.9" cy="139.8" r="1.3"/><circle cx="463.7" cy="143.4" r="1.3"/><circle cx="467.4" cy="138.9" r="1.3"/><circle cx="464.2" cy="139.8" r="1.3"/><circle cx="463.2" cy="142.4" r="1.3"/><circle cx="462.5" cy="140.2" r="1.3"/><circle cx="462.8" cy="145.9" r="1.3"/><circle cx="465.1" cy="145.0" r="1.3"/><circle cx="467.7" cy="136.3" r="1.3"/><circle cx="463.7" cy="145.9" r="1.3"/><circle cx="466.6" cy="134.6" r="1.3"/><circle cx="459.1" cy="138.9" r="1.3"/><circle cx="458.5" cy="136.1" r="1.3"/><circle cx="458.5" cy="142.1" r="1.3"/><circle cx="466.0" cy="145.3" r="1.3"/><circle cx="459.4" cy="142.7" r="1.3"/><circle cx="464.7" cy="134.7" r="1.3"/><circle cx="467.1" cy="146.3" r="1.3"/><circle cx="460.1" cy="146.0" r="1.3"/><circle cx="462.0" cy="139.5" r="1.3"/><circle cx="478.1" cy="135.4" r="1.3"/><circle cx="471.4" cy="132.1" r="1.3"/><circle cx="474.3" cy="131.4" r="1.3"/><circle cx="471.6" cy="131.2" r="1.3"/><circle cx="475.9" cy="128.8" r="1.3"/><circle cx="474.6" cy="132.2" r="1.3"/><circle cx="470.2" cy="131.3" r="1.3"/><circle cx="475.1" cy="132.8" r="1.3"/><circle cx="447.3" cy="101.2" r="1.3"/><circle cx="447.3" cy="102.9" r="1.3"/><circle cx="447.3" cy="104.7" r="1.3"/><circle cx="447.3" cy="106.4" r="1.3"/><circle cx="447.3" cy="108.2" r="1.3"/><circle cx="447.3" cy="109.9" r="1.3"/><circle cx="447.3" cy="111.7" r="1.3"/><circle cx="447.3" cy="113.4" r="1.3"/><circle cx="447.3" cy="115.2" r="1.3"/><circle cx="468.9" cy="106.4" r="1.3"/><circle cx="468.9" cy="108.2" r="1.3"/><circle cx="468.9" cy="109.9" r="1.3"/><circle cx="468.9" cy="111.7" r="1.3"/><circle cx="468.9" cy="113.4" r="1.3"/><circle cx="468.9" cy="115.2" r="1.3"/><circle cx="468.9" cy="116.9" r="1.3"/><circle cx="468.9" cy="118.7" r="1.3"/><circle cx="461.3" cy="133.9" r="1.3"/><circle cx="461.3" cy="135.6" r="1.3"/><circle cx="461.3" cy="137.4" r="1.3"/><circle cx="461.3" cy="139.1" r="1.3"/><circle cx="461.3" cy="140.9" r="1.3"/><circle cx="461.3" cy="142.6" r="1.3"/><circle cx="461.3" cy="144.4" r="1.3"/><circle cx="461.3" cy="146.1" r="1.3"/><circle cx="461.3" cy="147.9" r="1.3"/><circle cx="461.3" cy="149.6" r="1.3"/><circle cx="458.9" cy="140.9" r="1.3"/><circle cx="463.6" cy="139.7" r="1.3"/><circle cx="463.6" cy="144.4" r="1.3"/><circle cx="465.4" cy="146.1" r="1.3"/><circle cx="459.5" cy="147.9" r="1.3"/><circle cx="439.1" cy="105.8" r="1.3"/><circle cx="443.8" cy="105.3" r="1.3"/><circle cx="483.7" cy="147.0" r="1.3"/><circle cx="498.1" cy="130.9" r="1.3"/><circle cx="481.6" cy="147.7" r="1.3"/><circle cx="482.9" cy="145.6" r="1.3"/><circle cx="495.4" cy="132.9" r="1.3"/><circle cx="494.5" cy="129.8" r="1.3"/><circle cx="484.4" cy="146.5" r="1.3"/><circle cx="492.6" cy="139.3" r="1.3"/><circle cx="493.4" cy="134.2" r="1.3"/><circle cx="498.5" cy="132.8" r="1.3"/><circle cx="489.9" cy="138.8" r="1.3"/><circle cx="496.6" cy="131.5" r="1.3"/><circle cx="491.8" cy="137.0" r="1.3"/><circle cx="485.8" cy="144.0" r="1.3"/><circle cx="487.8" cy="141.9" r="1.3"/><circle cx="487.3" cy="140.7" r="1.3"/><circle cx="489.8" cy="139.7" r="1.3"/><circle cx="480.1" cy="149.0" r="1.3"/><circle cx="483.9" cy="143.4" r="1.3"/><circle cx="484.2" cy="144.8" r="1.3"/><circle cx="491.9" cy="135.9" r="1.3"/><circle cx="490.2" cy="133.6" r="1.3"/><circle cx="489.7" cy="138.2" r="1.3"/><circle cx="492.3" cy="135.3" r="1.3"/><circle cx="482.3" cy="147.7" r="1.3"/><circle cx="494.5" cy="134.0" r="1.3"/><circle cx="484.0" cy="145.0" r="1.3"/><circle cx="493.5" cy="135.1" r="1.3"/><circle cx="487.5" cy="140.8" r="1.3"/><circle cx="490.3" cy="140.6" r="1.3"/><circle cx="496.1" cy="129.8" r="1.3"/><circle cx="496.6" cy="131.5" r="1.3"/><circle cx="478.2" cy="151.8" r="1.3"/><circle cx="491.8" cy="138.1" r="1.3"/><circle cx="479.2" cy="151.0" r="1.3"/><circle cx="490.1" cy="138.6" r="1.3"/><circle cx="488.4" cy="141.8" r="1.3"/><circle cx="491.8" cy="134.6" r="1.3"/><circle cx="495.2" cy="132.6" r="1.3"/><circle cx="489.2" cy="139.9" r="1.3"/><circle cx="494.1" cy="133.1" r="1.3"/><circle cx="497.2" cy="130.6" r="1.3"/><circle cx="494.7" cy="132.6" r="1.3"/><circle cx="489.4" cy="136.4" r="1.3"/><circle cx="496.2" cy="130.6" r="1.3"/><circle cx="495.4" cy="129.1" r="1.3"/><circle cx="487.3" cy="142.2" r="1.3"/><circle cx="490.8" cy="140.5" r="1.3"/><circle cx="491.0" cy="134.6" r="1.3"/><circle cx="493.7" cy="134.0" r="1.3"/><circle cx="495.2" cy="130.7" r="1.3"/><circle cx="491.6" cy="135.9" r="1.3"/><circle cx="494.5" cy="133.7" r="1.3"/><circle cx="487.4" cy="140.6" r="1.3"/><circle cx="496.1" cy="132.9" r="1.3"/><circle cx="487.9" cy="139.1" r="1.3"/><circle cx="493.4" cy="131.5" r="1.3"/><circle cx="483.3" cy="147.0" r="1.3"/><circle cx="482.9" cy="101.2" r="1.3"/><circle cx="501.0" cy="116.4" r="1.3"/><circle cx="499.2" cy="119.3" r="1.3"/><circle cx="495.1" cy="120.8" r="1.3"/><circle cx="481.7" cy="119.3" r="1.3"/><circle cx="485.8" cy="122.2" r="1.3"/><circle cx="485.2" cy="124.9" r="1.3"/><circle cx="482.3" cy="125.9" r="1.3"/><circle cx="503.9" cy="127.4" r="1.3"/><circle cx="503.9" cy="129.2" r="1.3"/><circle cx="503.9" cy="130.9" r="1.3"/><circle cx="503.9" cy="132.7" r="1.3"/><circle cx="512.7" cy="123.4" r="1.3"/><circle cx="512.7" cy="125.1" r="1.3"/><circle cx="512.7" cy="127.4" r="1.3"/><circle cx="512.7" cy="129.2" r="1.3"/><circle cx="512.7" cy="130.9" r="1.3"/><circle cx="444.3" cy="137.6" r="1.3"/><circle cx="446.7" cy="137.6" r="1.3"/><circle cx="453.7" cy="153.1" r="1.3"/><circle cx="459.5" cy="152.0" r="1.3"/><circle cx="463.4" cy="153.7" r="1.3"/><circle cx="471.2" cy="157.2" r="1.3"/><circle cx="473.3" cy="157.0" r="1.3"/><circle cx="498.1" cy="149.1" r="1.3"/><circle cx="492.0" cy="153.5" r="1.3"/><circle cx="495.7" cy="157.2" r="1.3"/><circle cx="498.6" cy="159.0" r="1.3"/><circle cx="502.7" cy="157.2" r="1.3"/><circle cx="504.8" cy="157.2" r="1.3"/><circle cx="453.7" cy="152.9" r="1.3"/><circle cx="459.7" cy="152.1" r="1.3"/><circle cx="463.6" cy="153.4" r="1.3"/><circle cx="471.0" cy="157.3" r="1.3"/><circle cx="473.4" cy="156.5" r="1.3"/><circle cx="471.0" cy="161.3" r="1.3"/><circle cx="492.0" cy="153.4" r="1.3"/><circle cx="497.8" cy="148.7" r="1.3"/><circle cx="495.7" cy="156.8" r="1.3"/><circle cx="499.1" cy="159.4" r="1.3"/><circle cx="495.7" cy="162.6" r="1.3"/><circle cx="502.3" cy="157.3" r="1.3"/><circle cx="504.4" cy="157.3" r="1.3"/><circle cx="517.8" cy="155.5" r="1.3"/><circle cx="517.8" cy="157.3" r="1.3"/><circle cx="535.9" cy="145.0" r="1.3"/><circle cx="535.9" cy="147.6" r="1.3"/><circle cx="504.4" cy="177.8" r="1.3"/><circle cx="556.9" cy="172.6" r="1.3"/><circle cx="556.9" cy="175.7" r="1.3"/><circle cx="558.8" cy="174.9" r="1.3"/><circle cx="565.1" cy="179.7" r="1.3"/><circle cx="568.2" cy="181.5" r="1.3"/><circle cx="569.3" cy="177.6" r="1.3"/><circle cx="571.4" cy="178.9" r="1.3"/><circle cx="580.0" cy="150.2" r="1.3"/><circle cx="580.0" cy="152.9" r="1.3"/><circle cx="580.0" cy="155.0" r="1.3"/><circle cx="600.3" cy="147.3" r="1.3"/><circle cx="550.4" cy="135.8" r="1.3"/><circle cx="553.8" cy="135.8" r="1.3"/><circle cx="530.5" cy="165.4" r="1.3"/><circle cx="511.9" cy="175.3" r="1.3"/><circle cx="528.5" cy="164.4" r="1.3"/><circle cx="517.9" cy="170.9" r="1.3"/><circle cx="524.7" cy="169.6" r="1.3"/><circle cx="518.1" cy="172.1" r="1.3"/><circle cx="510.0" cy="175.3" r="1.3"/><circle cx="536.3" cy="161.4" r="1.3"/><circle cx="517.1" cy="172.0" r="1.3"/><circle cx="527.1" cy="167.5" r="1.3"/><circle cx="537.5" cy="162.5" r="1.3"/><circle cx="525.5" cy="167.0" r="1.3"/><circle cx="517.9" cy="171.3" r="1.3"/><circle cx="512.5" cy="174.9" r="1.3"/><circle cx="522.9" cy="169.1" r="1.3"/><circle cx="519.5" cy="171.6" r="1.3"/><circle cx="511.0" cy="173.7" r="1.3"/><circle cx="515.3" cy="172.9" r="1.3"/><circle cx="534.9" cy="162.9" r="1.3"/><circle cx="522.5" cy="169.5" r="1.3"/><circle cx="520.0" cy="170.3" r="1.3"/><circle cx="513.4" cy="175.4" r="1.3"/><circle cx="519.1" cy="170.8" r="1.3"/><circle cx="517.6" cy="171.3" r="1.3"/><circle cx="522.5" cy="169.4" r="1.3"/><circle cx="531.5" cy="162.2" r="1.3"/><circle cx="535.0" cy="161.2" r="1.3"/><circle cx="512.2" cy="173.6" r="1.3"/><circle cx="530.7" cy="163.8" r="1.3"/><circle cx="512.6" cy="174.3" r="1.3"/><circle cx="523.2" cy="168.9" r="1.3"/><circle cx="531.4" cy="164.4" r="1.3"/><circle cx="528.2" cy="166.7" r="1.3"/><circle cx="521.7" cy="169.9" r="1.3"/><circle cx="517.3" cy="171.7" r="1.3"/><circle cx="519.0" cy="170.5" r="1.3"/><circle cx="523.3" cy="169.1" r="1.3"/><circle cx="513.2" cy="174.2" r="1.3"/><circle cx="517.3" cy="172.8" r="1.3"/><circle cx="534.7" cy="161.6" r="1.3"/><circle cx="498.0" cy="79.0" r="1.3"/><circle cx="498.5" cy="81.8" r="1.3"/><circle cx="503.7" cy="79.0" r="1.3"/><circle cx="498.9" cy="91.3" r="1.3"/><circle cx="497.2" cy="94.2" r="1.3"/><circle cx="497.2" cy="96.1" r="1.3"/><circle cx="531.4" cy="105.5" r="1.3"/><circle cx="528.0" cy="108.8" r="1.3"/><circle cx="529.9" cy="111.2" r="1.3"/><circle cx="526.6" cy="115.0" r="1.3"/><circle cx="517.1" cy="113.1" r="1.3"/><circle cx="519.8" cy="111.8" r="1.3"/><circle cx="521.9" cy="111.2" r="1.3"/><circle cx="519.8" cy="115.4" r="1.3"/><circle cx="523.8" cy="117.9" r="1.3"/><circle cx="523.8" cy="120.7" r="1.3"/><circle cx="523.8" cy="124.1" r="1.3"/><circle cx="519.8" cy="120.7" r="1.3"/><circle cx="519.8" cy="125.5" r="1.3"/><circle cx="512.8" cy="123.6" r="1.3"/><circle cx="512.8" cy="126.4" r="1.3"/><circle cx="512.8" cy="128.7" r="1.3"/><circle cx="512.8" cy="131.2" r="1.3"/><circle cx="503.7" cy="127.4" r="1.3"/><circle cx="503.7" cy="129.8" r="1.3"/><circle cx="503.7" cy="132.5" r="1.3"/><circle cx="500.8" cy="116.6" r="1.3"/><circle cx="499.5" cy="119.4" r="1.3"/><circle cx="495.1" cy="120.7" r="1.3"/><circle cx="578.6" cy="112.8" r="1.3"/><circle cx="550.4" cy="135.9" r="1.3"/><circle cx="554.0" cy="135.9" r="1.3"/><circle cx="556.4" cy="132.5" r="1.3"/><circle cx="580.1" cy="149.2" r="1.3"/></g></g>
<g id="p3"><rect x="48.40" y="254.00" width="19.85" height="25.60" fill="url(#gg)" stroke="#0a6e0a" stroke-width="0.6"/>
<rect x="68.25" y="278.50" width="19.85" height="1.10" fill="url(#gg)" stroke="#0a6e0a" stroke-width="0.6"/>
<rect x="88.10" y="259.10" width="19.85" height="20.50" fill="url(#gg)" stroke="#0a6e0a" stroke-width="0.6"/>
<rect x="107.95" y="273.30" width="19.85" height="6.30" fill="url(#gg)" stroke="#0a6e0a" stroke-width="0.6"/>
<rect x="127.80" y="271.70" width="19.85" height="7.90" fill="url(#gg)" stroke="#0a6e0a" stroke-width="0.6"/>
<rect x="147.65" y="262.10" width="19.85" height="17.50" fill="url(#gg)" stroke="#0a6e0a" stroke-width="0.6"/>
<rect x="167.50" y="278.70" width="19.85" height="0.90" fill="url(#gg)" stroke="#0a6e0a" stroke-width="0.6"/>
<rect x="187.35" y="274.70" width="19.85" height="4.90" fill="url(#gg)" stroke="#0a6e0a" stroke-width="0.6"/>
<rect x="207.20" y="279.00" width="19.85" height="0.60" fill="url(#gg)" stroke="#0a6e0a" stroke-width="0.6"/>
<rect x="246.90" y="233.90" width="19.85" height="45.70" fill="url(#gg)" stroke="#0a6e0a" stroke-width="0.6"/>
<rect x="266.80" y="411.87" width="2.90" height="8.27" fill="url(#rg)" stroke="#4a0000" stroke-width="0.7"/>
<rect x="266.80" y="403.60" width="11.60" height="8.27" fill="url(#rg)" stroke="#4a0000" stroke-width="0.7"/>
<rect x="266.80" y="395.33" width="26.80" height="8.27" fill="url(#rg)" stroke="#4a0000" stroke-width="0.7"/>
<rect x="266.80" y="387.07" width="17.20" height="8.27" fill="url(#rg)" stroke="#4a0000" stroke-width="0.7"/>
<rect x="266.80" y="378.80" width="19.80" height="8.27" fill="url(#rg)" stroke="#4a0000" stroke-width="0.7"/>
<rect x="266.80" y="370.53" width="26.80" height="8.27" fill="url(#rg)" stroke="#4a0000" stroke-width="0.7"/>
<rect x="266.80" y="362.27" width="66.00" height="8.27" fill="url(#rg)" stroke="#4a0000" stroke-width="0.7"/>
<rect x="266.80" y="354.00" width="51.70" height="8.27" fill="url(#rg)" stroke="#4a0000" stroke-width="0.7"/>
<rect x="266.80" y="345.73" width="39.50" height="8.27" fill="url(#rg)" stroke="#4a0000" stroke-width="0.7"/>
<rect x="266.80" y="337.47" width="25.90" height="8.27" fill="url(#rg)" stroke="#4a0000" stroke-width="0.7"/>
<rect x="266.80" y="329.20" width="16.60" height="8.27" fill="url(#rg)" stroke="#4a0000" stroke-width="0.7"/>
<rect x="266.80" y="320.93" width="13.30" height="8.27" fill="url(#rg)" stroke="#4a0000" stroke-width="0.7"/>
<rect x="266.80" y="312.67" width="16.60" height="8.27" fill="url(#rg)" stroke="#4a0000" stroke-width="0.7"/>
<rect x="266.80" y="304.40" width="4.50" height="8.27" fill="url(#rg)" stroke="#4a0000" stroke-width="0.7"/>
<rect x="266.80" y="296.13" width="5.90" height="8.27" fill="url(#rg)" stroke="#4a0000" stroke-width="0.7"/>
<rect x="266.80" y="287.87" width="1.50" height="8.27" fill="url(#rg)" stroke="#4a0000" stroke-width="0.7"/>
<path d="M266.80 279.60V428.40" stroke="#444" stroke-width="0.8" fill="none"/>
<path d="M25.10 279.60H266.80" stroke="#444" stroke-width="0.8" fill="none"/>
<path d="M28.60 279.60V428.40M25.10 428.40H266.80" stroke="#444" stroke-width="0.9" fill="none"/>
<path d="M25.10 428.40H28.60M26.80 420.13H28.60M25.10 411.87H28.60M26.80 403.60H28.60M25.10 395.33H28.60M26.80 387.07H28.60M25.10 378.80H28.60M26.80 370.53H28.60M25.10 362.27H28.60M26.80 354.00H28.60M25.10 345.73H28.60M26.80 337.47H28.60M25.10 329.20H28.60M26.80 320.93H28.60M25.10 312.67H28.60M26.80 304.40H28.60M25.10 296.13H28.60M26.80 287.87H28.60M25.10 279.60H28.60M48.45 428.40v3.3M88.15 428.40v3.3M127.85 428.40v3.3M167.55 428.40v3.3M207.25 428.40v3.3M246.95 428.40v3.3M28.60 428.40v1.6M68.30 428.40v1.6M108.00 428.40v1.6M147.70 428.40v1.6M187.40 428.40v1.6M227.10 428.40v1.6M266.80 428.40v1.6" stroke="#444" stroke-width="0.8" fill="none"/>
<g font-size="8.35" fill="#1a1a1a"><text transform="translate(22.30 431.35) scale(0.92 1)" text-anchor="end">0</text><text transform="translate(22.30 414.82) scale(0.92 1)" text-anchor="end">10</text><text transform="translate(22.30 398.28) scale(0.92 1)" text-anchor="end">20</text><text transform="translate(22.30 381.75) scale(0.92 1)" text-anchor="end">30</text><text transform="translate(22.30 365.22) scale(0.92 1)" text-anchor="end">40</text><text transform="translate(22.30 348.68) scale(0.92 1)" text-anchor="end">50</text><text transform="translate(22.30 332.15) scale(0.92 1)" text-anchor="end">60</text><text transform="translate(22.30 315.62) scale(0.92 1)" text-anchor="end">70</text><text transform="translate(22.30 299.08) scale(0.92 1)" text-anchor="end">80</text><text transform="translate(22.30 282.55) scale(0.92 1)" text-anchor="end">90</text><text transform="translate(48.45 441.30) scale(0.92 1)" text-anchor="middle">0,0</text><text transform="translate(88.15 441.30) scale(0.92 1)" text-anchor="middle">0,2</text><text transform="translate(127.85 441.30) scale(0.92 1)" text-anchor="middle">0,4</text><text transform="translate(167.55 441.30) scale(0.92 1)" text-anchor="middle">0,6</text><text transform="translate(207.25 441.30) scale(0.92 1)" text-anchor="middle">0,8</text><text transform="translate(246.95 441.30) scale(0.92 1)" text-anchor="middle">1,0</text></g>
<text x="147.70" y="454.10" text-anchor="middle" font-size="12.3" fill="#111" stroke="#111" stroke-width="0.12">r</text>
<text transform="translate(10.00 354.00) rotate(-90)" text-anchor="middle" font-size="12.6" fill="#111" stroke="#111" stroke-width="0.25">f'c</text>
<g fill="#09bf09"><circle cx="48.3" cy="291.8" r="1.3"/><circle cx="48.3" cy="295.3" r="1.3"/><circle cx="48.3" cy="304.1" r="1.3"/><circle cx="48.3" cy="308.6" r="1.3"/><circle cx="48.3" cy="311.3" r="1.3"/><circle cx="48.3" cy="313.8" r="1.3"/><circle cx="48.3" cy="316.8" r="1.3"/><circle cx="48.3" cy="318.9" r="1.3"/><circle cx="48.3" cy="321.0" r="1.3"/><circle cx="48.3" cy="326.7" r="1.3"/><circle cx="48.3" cy="331.2" r="1.3"/><circle cx="48.3" cy="333.1" r="1.3"/><circle cx="48.3" cy="334.9" r="1.3"/><circle cx="48.3" cy="336.8" r="1.3"/><circle cx="48.3" cy="338.6" r="1.3"/><circle cx="48.3" cy="340.5" r="1.3"/><circle cx="48.3" cy="342.3" r="1.3"/><circle cx="48.3" cy="344.2" r="1.3"/><circle cx="48.3" cy="346.0" r="1.3"/><circle cx="48.3" cy="347.9" r="1.3"/><circle cx="48.3" cy="349.7" r="1.3"/><circle cx="48.3" cy="351.6" r="1.3"/><circle cx="48.3" cy="353.4" r="1.3"/><circle cx="48.3" cy="355.3" r="1.3"/><circle cx="48.3" cy="357.1" r="1.3"/><circle cx="48.3" cy="359.0" r="1.3"/><circle cx="48.3" cy="360.8" r="1.3"/><circle cx="48.3" cy="362.7" r="1.3"/><circle cx="48.3" cy="364.5" r="1.3"/><circle cx="48.3" cy="366.4" r="1.3"/><circle cx="48.3" cy="368.2" r="1.3"/><circle cx="48.3" cy="370.1" r="1.3"/><circle cx="48.3" cy="371.9" r="1.3"/><circle cx="48.3" cy="373.8" r="1.3"/><circle cx="48.3" cy="375.6" r="1.3"/><circle cx="48.3" cy="377.5" r="1.3"/><circle cx="48.3" cy="379.3" r="1.3"/><circle cx="48.3" cy="381.2" r="1.3"/><circle cx="48.3" cy="383.0" r="1.3"/><circle cx="48.3" cy="390.8" r="1.3"/><circle cx="48.3" cy="394.9" r="1.3"/><circle cx="48.3" cy="397.0" r="1.3"/><circle cx="48.3" cy="409.9" r="1.3"/><circle cx="48.3" cy="415.1" r="1.3"/><circle cx="88.1" cy="296.9" r="1.3"/><circle cx="88.1" cy="302.1" r="1.3"/><circle cx="88.1" cy="307.2" r="1.3"/><circle cx="88.1" cy="312.7" r="1.3"/><circle cx="88.1" cy="315.8" r="1.3"/><circle cx="88.1" cy="322.4" r="1.3"/><circle cx="88.1" cy="325.1" r="1.3"/><circle cx="88.1" cy="327.7" r="1.3"/><circle cx="88.1" cy="330.2" r="1.3"/><circle cx="88.1" cy="343.1" r="1.3"/><circle cx="88.1" cy="346.0" r="1.3"/><circle cx="88.1" cy="353.8" r="1.3"/><circle cx="88.1" cy="356.5" r="1.3"/><circle cx="88.1" cy="359.0" r="1.3"/><circle cx="88.1" cy="361.4" r="1.3"/><circle cx="88.1" cy="364.1" r="1.3"/><circle cx="88.1" cy="366.8" r="1.3"/><circle cx="88.1" cy="368.2" r="1.3"/><circle cx="88.1" cy="393.9" r="1.3"/><circle cx="88.1" cy="396.4" r="1.3"/><circle cx="88.1" cy="399.0" r="1.3"/><circle cx="88.1" cy="401.7" r="1.3"/><circle cx="82.0" cy="351.8" r="1.3"/><circle cx="82.0" cy="354.2" r="1.3"/><circle cx="82.0" cy="356.9" r="1.3"/><circle cx="77.9" cy="365.5" r="1.3"/><circle cx="97.8" cy="340.1" r="1.3"/><circle cx="97.8" cy="342.5" r="1.3"/><circle cx="97.8" cy="346.6" r="1.3"/><circle cx="97.8" cy="351.8" r="1.3"/><circle cx="97.8" cy="353.2" r="1.3"/><circle cx="103.6" cy="361.0" r="1.3"/><circle cx="121.6" cy="357.5" r="1.3"/><circle cx="141.6" cy="345.0" r="1.3"/><circle cx="143.4" cy="339.4" r="1.3"/><circle cx="143.4" cy="369.2" r="1.3"/><circle cx="107.7" cy="354.9" r="1.3"/><circle cx="107.7" cy="362.7" r="1.3"/><circle cx="107.7" cy="365.1" r="1.3"/><circle cx="107.7" cy="367.6" r="1.3"/><circle cx="107.7" cy="370.1" r="1.3"/><circle cx="107.7" cy="372.3" r="1.3"/><circle cx="107.7" cy="377.5" r="1.3"/><circle cx="107.7" cy="391.2" r="1.3"/><circle cx="107.7" cy="393.9" r="1.3"/><circle cx="107.7" cy="396.4" r="1.3"/><circle cx="107.7" cy="406.2" r="1.3"/><circle cx="107.7" cy="413.4" r="1.3"/><circle cx="127.6" cy="365.1" r="1.3"/><circle cx="127.6" cy="367.2" r="1.3"/><circle cx="127.6" cy="369.2" r="1.3"/><circle cx="127.6" cy="372.9" r="1.3"/><circle cx="127.6" cy="395.3" r="1.3"/><circle cx="127.6" cy="397.6" r="1.3"/><circle cx="127.6" cy="399.6" r="1.3"/><circle cx="127.6" cy="401.3" r="1.3"/><circle cx="139.3" cy="346.0" r="1.3"/><circle cx="139.3" cy="347.7" r="1.3"/><circle cx="139.3" cy="349.7" r="1.3"/><circle cx="139.3" cy="354.9" r="1.3"/><circle cx="139.3" cy="359.0" r="1.3"/><circle cx="139.3" cy="360.4" r="1.3"/><circle cx="147.5" cy="306.0" r="1.3"/><circle cx="147.5" cy="314.8" r="1.3"/><circle cx="147.5" cy="318.9" r="1.3"/><circle cx="147.5" cy="321.0" r="1.3"/><circle cx="147.5" cy="325.1" r="1.3"/><circle cx="147.5" cy="327.3" r="1.3"/><circle cx="147.5" cy="329.6" r="1.3"/><circle cx="147.5" cy="331.8" r="1.3"/><circle cx="147.5" cy="334.1" r="1.3"/><circle cx="147.5" cy="336.4" r="1.3"/><circle cx="147.5" cy="340.5" r="1.3"/><circle cx="147.5" cy="342.3" r="1.3"/><circle cx="147.5" cy="344.2" r="1.3"/><circle cx="147.5" cy="346.0" r="1.3"/><circle cx="147.5" cy="347.9" r="1.3"/><circle cx="147.5" cy="349.7" r="1.3"/><circle cx="147.5" cy="351.6" r="1.3"/><circle cx="147.5" cy="353.4" r="1.3"/><circle cx="147.5" cy="355.3" r="1.3"/><circle cx="147.5" cy="357.1" r="1.3"/><circle cx="147.5" cy="359.0" r="1.3"/><circle cx="147.5" cy="360.8" r="1.3"/><circle cx="147.5" cy="362.7" r="1.3"/><circle cx="147.5" cy="364.5" r="1.3"/><circle cx="147.5" cy="366.4" r="1.3"/><circle cx="147.5" cy="368.2" r="1.3"/><circle cx="147.5" cy="370.1" r="1.3"/><circle cx="147.5" cy="371.9" r="1.3"/><circle cx="147.5" cy="378.5" r="1.3"/><circle cx="147.5" cy="390.4" r="1.3"/><circle cx="147.5" cy="408.3" r="1.3"/><circle cx="147.5" cy="410.7" r="1.3"/><circle cx="153.5" cy="360.4" r="1.3"/><circle cx="161.4" cy="367.6" r="1.3"/><circle cx="167.5" cy="368.8" r="1.3"/><circle cx="167.5" cy="370.3" r="1.3"/><circle cx="167.5" cy="399.4" r="1.3"/><circle cx="187.2" cy="360.6" r="1.3"/><circle cx="207.4" cy="374.6" r="1.3"/><circle cx="207.4" cy="401.1" r="1.3"/><circle cx="193.2" cy="339.4" r="1.3"/><circle cx="193.2" cy="344.0" r="1.3"/><circle cx="193.2" cy="349.7" r="1.3"/><circle cx="193.2" cy="382.0" r="1.3"/><circle cx="193.2" cy="387.1" r="1.3"/><circle cx="193.2" cy="393.3" r="1.3"/><circle cx="197.3" cy="345.2" r="1.3"/><circle cx="197.3" cy="348.1" r="1.3"/><circle cx="197.3" cy="357.5" r="1.3"/><circle cx="197.3" cy="367.6" r="1.3"/><circle cx="197.3" cy="370.3" r="1.3"/><circle cx="197.3" cy="390.4" r="1.3"/><circle cx="197.3" cy="409.3" r="1.3"/><circle cx="197.3" cy="412.4" r="1.3"/><circle cx="247.0" cy="299.0" r="1.3"/><circle cx="247.0" cy="304.1" r="1.3"/><circle cx="247.0" cy="309.7" r="1.3"/><circle cx="247.0" cy="311.3" r="1.3"/><circle cx="247.0" cy="312.9" r="1.3"/><circle cx="247.0" cy="314.6" r="1.3"/><circle cx="247.0" cy="316.2" r="1.3"/><circle cx="247.0" cy="317.9" r="1.3"/><circle cx="247.0" cy="319.5" r="1.3"/><circle cx="247.0" cy="321.2" r="1.3"/><circle cx="247.0" cy="322.8" r="1.3"/><circle cx="247.0" cy="324.4" r="1.3"/><circle cx="247.0" cy="326.1" r="1.3"/><circle cx="247.0" cy="327.7" r="1.3"/><circle cx="247.0" cy="329.4" r="1.3"/><circle cx="247.0" cy="331.0" r="1.3"/><circle cx="247.0" cy="332.7" r="1.3"/><circle cx="247.0" cy="334.3" r="1.3"/><circle cx="247.0" cy="336.0" r="1.3"/><circle cx="247.0" cy="337.6" r="1.3"/><circle cx="247.0" cy="339.2" r="1.3"/><circle cx="247.0" cy="340.9" r="1.3"/><circle cx="247.0" cy="342.5" r="1.3"/><circle cx="247.0" cy="344.2" r="1.3"/><circle cx="247.0" cy="345.8" r="1.3"/><circle cx="247.0" cy="347.5" r="1.3"/><circle cx="247.0" cy="349.1" r="1.3"/><circle cx="247.0" cy="350.7" r="1.3"/><circle cx="247.0" cy="352.4" r="1.3"/><circle cx="247.0" cy="354.0" r="1.3"/><circle cx="247.0" cy="355.7" r="1.3"/><circle cx="247.0" cy="357.3" r="1.3"/><circle cx="247.0" cy="359.0" r="1.3"/><circle cx="247.0" cy="360.6" r="1.3"/><circle cx="247.0" cy="362.3" r="1.3"/><circle cx="247.0" cy="363.9" r="1.3"/><circle cx="247.0" cy="365.5" r="1.3"/><circle cx="247.0" cy="367.2" r="1.3"/><circle cx="247.0" cy="368.8" r="1.3"/><circle cx="247.0" cy="370.5" r="1.3"/><circle cx="247.0" cy="372.1" r="1.3"/><circle cx="247.0" cy="373.8" r="1.3"/><circle cx="247.0" cy="375.4" r="1.3"/><circle cx="247.0" cy="377.0" r="1.3"/><circle cx="247.0" cy="378.7" r="1.3"/><circle cx="247.0" cy="380.3" r="1.3"/><circle cx="247.0" cy="382.0" r="1.3"/><circle cx="247.0" cy="383.6" r="1.3"/><circle cx="247.0" cy="385.3" r="1.3"/><circle cx="247.0" cy="386.9" r="1.3"/><circle cx="247.0" cy="388.6" r="1.3"/><circle cx="247.0" cy="390.2" r="1.3"/><circle cx="247.0" cy="391.8" r="1.3"/><circle cx="247.0" cy="394.9" r="1.3"/><circle cx="247.0" cy="401.1" r="1.3"/><circle cx="247.0" cy="403.6" r="1.3"/><circle cx="247.0" cy="406.2" r="1.3"/><circle cx="247.0" cy="408.7" r="1.3"/><circle cx="247.0" cy="411.2" r="1.3"/><circle cx="247.0" cy="413.4" r="1.3"/></g></g>
<g id="p4"><rect x="409.50" y="278.10" width="14.90" height="1.20" fill="url(#gg)" stroke="#0a6e0a" stroke-width="0.6"/>
<rect x="439.30" y="278.30" width="14.90" height="1.00" fill="url(#gg)" stroke="#0a6e0a" stroke-width="0.6"/>
<rect x="484.00" y="275.90" width="14.90" height="3.40" fill="url(#gg)" stroke="#0a6e0a" stroke-width="0.6"/>
<rect x="498.90" y="270.30" width="14.90" height="9.00" fill="url(#gg)" stroke="#0a6e0a" stroke-width="0.6"/>
<rect x="513.80" y="237.40" width="14.90" height="41.90" fill="url(#gg)" stroke="#0a6e0a" stroke-width="0.6"/>
<rect x="528.70" y="233.20" width="14.90" height="46.10" fill="url(#gg)" stroke="#0a6e0a" stroke-width="0.6"/>
<rect x="543.60" y="267.30" width="14.90" height="12.00" fill="url(#gg)" stroke="#0a6e0a" stroke-width="0.6"/>
<rect x="558.50" y="272.00" width="14.90" height="7.30" fill="url(#gg)" stroke="#0a6e0a" stroke-width="0.6"/>
<rect x="573.40" y="278.40" width="14.90" height="0.90" fill="url(#gg)" stroke="#0a6e0a" stroke-width="0.6"/>
<rect x="618.30" y="410.86" width="2.90" height="8.22" fill="url(#rg)" stroke="#4a0000" stroke-width="0.7"/>
<rect x="618.30" y="402.63" width="11.60" height="8.22" fill="url(#rg)" stroke="#4a0000" stroke-width="0.7"/>
<rect x="618.30" y="394.41" width="26.80" height="8.22" fill="url(#rg)" stroke="#4a0000" stroke-width="0.7"/>
<rect x="618.30" y="386.19" width="17.20" height="8.22" fill="url(#rg)" stroke="#4a0000" stroke-width="0.7"/>
<rect x="618.30" y="377.97" width="19.80" height="8.22" fill="url(#rg)" stroke="#4a0000" stroke-width="0.7"/>
<rect x="618.30" y="369.74" width="26.80" height="8.22" fill="url(#rg)" stroke="#4a0000" stroke-width="0.7"/>
<rect x="618.30" y="361.52" width="66.00" height="8.22" fill="url(#rg)" stroke="#4a0000" stroke-width="0.7"/>
<rect x="618.30" y="353.30" width="51.70" height="8.22" fill="url(#rg)" stroke="#4a0000" stroke-width="0.7"/>
<rect x="618.30" y="345.08" width="39.50" height="8.22" fill="url(#rg)" stroke="#4a0000" stroke-width="0.7"/>
<rect x="618.30" y="336.86" width="25.90" height="8.22" fill="url(#rg)" stroke="#4a0000" stroke-width="0.7"/>
<rect x="618.30" y="328.63" width="16.60" height="8.22" fill="url(#rg)" stroke="#4a0000" stroke-width="0.7"/>
<rect x="618.30" y="320.41" width="13.30" height="8.22" fill="url(#rg)" stroke="#4a0000" stroke-width="0.7"/>
<rect x="618.30" y="312.19" width="16.60" height="8.22" fill="url(#rg)" stroke="#4a0000" stroke-width="0.7"/>
<rect x="618.30" y="303.97" width="4.50" height="8.22" fill="url(#rg)" stroke="#4a0000" stroke-width="0.7"/>
<rect x="618.30" y="295.74" width="5.90" height="8.22" fill="url(#rg)" stroke="#4a0000" stroke-width="0.7"/>
<rect x="618.30" y="287.52" width="1.50" height="8.22" fill="url(#rg)" stroke="#4a0000" stroke-width="0.7"/>
<path d="M618.30 279.30V427.30" stroke="#444" stroke-width="0.8" fill="none"/>
<path d="M376.30 279.30H618.30" stroke="#444" stroke-width="0.8" fill="none"/>
<path d="M379.80 279.30V427.30M376.30 427.30H618.30" stroke="#444" stroke-width="0.9" fill="none"/>
<path d="M376.30 427.30H379.80M378.00 419.08H379.80M376.30 410.86H379.80M378.00 402.63H379.80M376.30 394.41H379.80M378.00 386.19H379.80M376.30 377.97H379.80M378.00 369.74H379.80M376.30 361.52H379.80M378.00 353.30H379.80M376.30 345.08H379.80M378.00 336.86H379.80M376.30 328.63H379.80M378.00 320.41H379.80M376.30 312.19H379.80M378.00 303.97H379.80M376.30 295.74H379.80M378.00 287.52H379.80M376.30 279.30H379.80M379.80 427.30v3.3M409.61 427.30v3.3M439.43 427.30v3.3M469.24 427.30v3.3M499.05 427.30v3.3M528.86 427.30v3.3M558.67 427.30v3.3M588.49 427.30v3.3M618.30 427.30v3.3M394.71 427.30v1.6M424.52 427.30v1.6M454.33 427.30v1.6M484.14 427.30v1.6M513.96 427.30v1.6M543.77 427.30v1.6M573.58 427.30v1.6M603.39 427.30v1.6" stroke="#444" stroke-width="0.8" fill="none"/>
<g font-size="8.35" fill="#1a1a1a"><text transform="translate(373.50 430.25) scale(0.92 1)" text-anchor="end">0</text><text transform="translate(373.50 413.81) scale(0.92 1)" text-anchor="end">10</text><text transform="translate(373.50 397.36) scale(0.92 1)" text-anchor="end">20</text><text transform="translate(373.50 380.92) scale(0.92 1)" text-anchor="end">30</text><text transform="translate(373.50 364.47) scale(0.92 1)" text-anchor="end">40</text><text transform="translate(373.50 348.03) scale(0.92 1)" text-anchor="end">50</text><text transform="translate(373.50 331.58) scale(0.92 1)" text-anchor="end">60</text><text transform="translate(373.50 315.14) scale(0.92 1)" text-anchor="end">70</text><text transform="translate(373.50 298.69) scale(0.92 1)" text-anchor="end">80</text><text transform="translate(373.50 282.25) scale(0.92 1)" text-anchor="end">90</text><text transform="translate(379.80 440.20) scale(0.92 1)" text-anchor="middle">-0,1</text><text transform="translate(409.61 440.20) scale(0.92 1)" text-anchor="middle">0,0</text><text transform="translate(439.43 440.20) scale(0.92 1)" text-anchor="middle">0,1</text><text transform="translate(469.24 440.20) scale(0.92 1)" text-anchor="middle">0,2</text><text transform="translate(499.05 440.20) scale(0.92 1)" text-anchor="middle">0,3</text><text transform="translate(528.86 440.20) scale(0.92 1)" text-anchor="middle">0,4</text><text transform="translate(558.67 440.20) scale(0.92 1)" text-anchor="middle">0,5</text><text transform="translate(588.49 440.20) scale(0.92 1)" text-anchor="middle">0,6</text><text transform="translate(618.30 440.20) scale(0.92 1)" text-anchor="middle">0,7</text></g>
<text x="499.05" y="451.40" text-anchor="middle" font-size="12.3" fill="#111" stroke="#111" stroke-width="0.12">F<tspan font-size="8.2" dy="2.8">A</tspan><tspan dy="-2.8"> / T</tspan><tspan font-size="8.2" dy="2.8">A</tspan></text>
<text transform="translate(361.20 353.30) rotate(-90)" text-anchor="middle" font-size="12.6" fill="#111" stroke="#111" stroke-width="0.25">f'c</text>
<g fill="#09bf09"><circle cx="492.6" cy="346.0" r="1.3"/><circle cx="492.6" cy="353.4" r="1.3"/><circle cx="489.9" cy="365.1" r="1.3"/><circle cx="489.9" cy="368.2" r="1.3"/><circle cx="492.6" cy="363.7" r="1.3"/><circle cx="492.6" cy="366.2" r="1.3"/><circle cx="492.6" cy="368.8" r="1.3"/><circle cx="489.9" cy="371.3" r="1.3"/><circle cx="492.6" cy="373.8" r="1.3"/><circle cx="498.8" cy="356.5" r="1.3"/><circle cx="501.8" cy="359.0" r="1.3"/><circle cx="506.6" cy="340.1" r="1.3"/><circle cx="512.1" cy="340.9" r="1.3"/><circle cx="509.7" cy="342.5" r="1.3"/><circle cx="501.8" cy="346.2" r="1.3"/><circle cx="504.9" cy="344.6" r="1.3"/><circle cx="512.1" cy="345.0" r="1.3"/><circle cx="516.8" cy="343.1" r="1.3"/><circle cx="506.6" cy="347.7" r="1.3"/><circle cx="509.7" cy="349.1" r="1.3"/><circle cx="513.1" cy="348.7" r="1.3"/><circle cx="508.0" cy="351.8" r="1.3"/><circle cx="504.9" cy="351.8" r="1.3"/><circle cx="511.1" cy="352.8" r="1.3"/><circle cx="508.0" cy="354.9" r="1.3"/><circle cx="513.6" cy="354.9" r="1.3"/><circle cx="510.5" cy="357.3" r="1.3"/><circle cx="516.8" cy="353.8" r="1.3"/><circle cx="516.8" cy="346.6" r="1.3"/><circle cx="508.0" cy="367.2" r="1.3"/><circle cx="510.5" cy="368.2" r="1.3"/><circle cx="510.5" cy="370.9" r="1.3"/><circle cx="510.5" cy="387.7" r="1.3"/><circle cx="510.5" cy="390.2" r="1.3"/><circle cx="516.8" cy="303.5" r="1.3"/><circle cx="516.8" cy="312.3" r="1.3"/><circle cx="519.9" cy="310.3" r="1.3"/><circle cx="516.8" cy="360.0" r="1.3"/><circle cx="518.3" cy="363.1" r="1.3"/><circle cx="516.8" cy="370.3" r="1.3"/><circle cx="517.7" cy="376.4" r="1.3"/><circle cx="517.7" cy="377.9" r="1.3"/><circle cx="517.7" cy="384.0" r="1.3"/><circle cx="519.9" cy="385.7" r="1.3"/><circle cx="519.9" cy="338.4" r="1.3"/><circle cx="519.9" cy="354.9" r="1.3"/><circle cx="519.9" cy="357.9" r="1.3"/><circle cx="519.9" cy="366.2" r="1.3"/><circle cx="546.6" cy="343.6" r="1.3"/><circle cx="546.6" cy="368.2" r="1.3"/><circle cx="549.7" cy="352.4" r="1.3"/><circle cx="549.7" cy="372.9" r="1.3"/><circle cx="561.4" cy="338.4" r="1.3"/><circle cx="561.4" cy="350.7" r="1.3"/><circle cx="561.4" cy="366.2" r="1.3"/><circle cx="567.6" cy="365.1" r="1.3"/><circle cx="564.5" cy="381.6" r="1.3"/><circle cx="567.6" cy="378.5" r="1.3"/><circle cx="570.7" cy="377.5" r="1.3"/><circle cx="570.7" cy="379.9" r="1.3"/><circle cx="567.6" cy="385.3" r="1.3"/><circle cx="567.6" cy="389.8" r="1.3"/><circle cx="570.7" cy="391.8" r="1.3"/><circle cx="579.5" cy="365.7" r="1.3"/><circle cx="582.6" cy="382.6" r="1.3"/><circle cx="582.6" cy="386.7" r="1.3"/><circle cx="528.6" cy="407.3" r="1.3"/><circle cx="522.4" cy="311.7" r="1.3"/><circle cx="522.4" cy="314.8" r="1.3"/><circle cx="522.4" cy="323.0" r="1.3"/><circle cx="522.4" cy="329.2" r="1.3"/><circle cx="522.4" cy="333.3" r="1.3"/><circle cx="522.4" cy="336.4" r="1.3"/><circle cx="522.4" cy="339.4" r="1.3"/><circle cx="522.4" cy="344.6" r="1.3"/><circle cx="522.4" cy="346.6" r="1.3"/><circle cx="522.4" cy="348.7" r="1.3"/><circle cx="522.4" cy="350.7" r="1.3"/><circle cx="522.4" cy="352.8" r="1.3"/><circle cx="522.4" cy="354.9" r="1.3"/><circle cx="522.4" cy="356.9" r="1.3"/><circle cx="522.4" cy="359.0" r="1.3"/><circle cx="522.4" cy="361.0" r="1.3"/><circle cx="522.4" cy="363.1" r="1.3"/><circle cx="522.4" cy="365.1" r="1.3"/><circle cx="522.4" cy="367.2" r="1.3"/><circle cx="522.4" cy="369.2" r="1.3"/><circle cx="522.4" cy="371.3" r="1.3"/><circle cx="522.4" cy="373.4" r="1.3"/><circle cx="525.5" cy="294.2" r="1.3"/><circle cx="525.5" cy="298.4" r="1.3"/><circle cx="525.5" cy="303.5" r="1.3"/><circle cx="525.5" cy="307.6" r="1.3"/><circle cx="525.5" cy="311.7" r="1.3"/><circle cx="525.5" cy="313.8" r="1.3"/><circle cx="525.5" cy="317.9" r="1.3"/><circle cx="525.5" cy="325.1" r="1.3"/><circle cx="525.5" cy="327.7" r="1.3"/><circle cx="525.5" cy="334.3" r="1.3"/><circle cx="525.5" cy="339.4" r="1.3"/><circle cx="525.5" cy="344.6" r="1.3"/><circle cx="525.5" cy="346.4" r="1.3"/><circle cx="525.5" cy="348.3" r="1.3"/><circle cx="525.5" cy="350.1" r="1.3"/><circle cx="525.5" cy="352.0" r="1.3"/><circle cx="525.5" cy="353.8" r="1.3"/><circle cx="525.5" cy="355.7" r="1.3"/><circle cx="525.5" cy="357.5" r="1.3"/><circle cx="525.5" cy="359.4" r="1.3"/><circle cx="525.5" cy="361.2" r="1.3"/><circle cx="525.5" cy="363.1" r="1.3"/><circle cx="525.5" cy="364.9" r="1.3"/><circle cx="525.5" cy="366.8" r="1.3"/><circle cx="525.5" cy="368.6" r="1.3"/><circle cx="525.5" cy="370.5" r="1.3"/><circle cx="525.5" cy="372.3" r="1.3"/><circle cx="525.5" cy="374.2" r="1.3"/><circle cx="525.5" cy="376.0" r="1.3"/><circle cx="525.5" cy="377.9" r="1.3"/><circle cx="525.5" cy="379.7" r="1.3"/><circle cx="525.5" cy="381.6" r="1.3"/><circle cx="525.5" cy="383.4" r="1.3"/><circle cx="525.5" cy="385.3" r="1.3"/><circle cx="525.5" cy="389.8" r="1.3"/><circle cx="525.5" cy="393.5" r="1.3"/><circle cx="528.6" cy="291.6" r="1.3"/><circle cx="528.6" cy="298.4" r="1.3"/><circle cx="528.6" cy="315.8" r="1.3"/><circle cx="528.6" cy="323.0" r="1.3"/><circle cx="528.6" cy="329.2" r="1.3"/><circle cx="528.6" cy="330.6" r="1.3"/><circle cx="528.6" cy="341.5" r="1.3"/><circle cx="528.6" cy="347.7" r="1.3"/><circle cx="528.6" cy="354.9" r="1.3"/><circle cx="528.6" cy="356.9" r="1.3"/><circle cx="528.6" cy="361.0" r="1.3"/><circle cx="528.6" cy="366.2" r="1.3"/><circle cx="528.6" cy="369.2" r="1.3"/><circle cx="528.6" cy="373.4" r="1.3"/><circle cx="528.6" cy="375.4" r="1.3"/><circle cx="528.6" cy="377.5" r="1.3"/><circle cx="528.6" cy="379.5" r="1.3"/><circle cx="528.6" cy="381.6" r="1.3"/><circle cx="531.6" cy="296.3" r="1.3"/><circle cx="531.6" cy="300.4" r="1.3"/><circle cx="531.6" cy="304.5" r="1.3"/><circle cx="531.6" cy="306.6" r="1.3"/><circle cx="531.6" cy="309.7" r="1.3"/><circle cx="531.6" cy="314.8" r="1.3"/><circle cx="531.6" cy="317.9" r="1.3"/><circle cx="531.6" cy="319.9" r="1.3"/><circle cx="531.6" cy="324.0" r="1.3"/><circle cx="531.6" cy="326.1" r="1.3"/><circle cx="531.6" cy="339.4" r="1.3"/><circle cx="531.6" cy="348.7" r="1.3"/><circle cx="531.6" cy="350.7" r="1.3"/><circle cx="531.6" cy="352.8" r="1.3"/><circle cx="531.6" cy="355.9" r="1.3"/><circle cx="531.6" cy="366.2" r="1.3"/><circle cx="531.6" cy="368.2" r="1.3"/><circle cx="531.6" cy="372.3" r="1.3"/><circle cx="531.6" cy="374.4" r="1.3"/><circle cx="531.6" cy="376.4" r="1.3"/><circle cx="531.6" cy="378.5" r="1.3"/><circle cx="531.6" cy="380.5" r="1.3"/><circle cx="531.6" cy="404.2" r="1.3"/><circle cx="531.6" cy="409.3" r="1.3"/><circle cx="534.7" cy="321.0" r="1.3"/><circle cx="534.7" cy="323.0" r="1.3"/><circle cx="534.7" cy="333.3" r="1.3"/><circle cx="534.7" cy="344.6" r="1.3"/><circle cx="534.7" cy="347.7" r="1.3"/><circle cx="534.7" cy="350.7" r="1.3"/><circle cx="534.7" cy="353.8" r="1.3"/><circle cx="534.7" cy="356.9" r="1.3"/><circle cx="534.7" cy="362.0" r="1.3"/><circle cx="534.7" cy="369.2" r="1.3"/><circle cx="534.7" cy="408.3" r="1.3"/><circle cx="534.7" cy="410.7" r="1.3"/><circle cx="534.7" cy="413.4" r="1.3"/><circle cx="537.8" cy="313.8" r="1.3"/><circle cx="537.8" cy="318.9" r="1.3"/><circle cx="537.8" cy="321.0" r="1.3"/><circle cx="537.8" cy="323.0" r="1.3"/><circle cx="537.8" cy="325.1" r="1.3"/><circle cx="537.8" cy="327.1" r="1.3"/><circle cx="537.8" cy="329.2" r="1.3"/><circle cx="537.8" cy="331.2" r="1.3"/><circle cx="537.8" cy="338.4" r="1.3"/><circle cx="537.8" cy="340.5" r="1.3"/><circle cx="537.8" cy="342.5" r="1.3"/><circle cx="537.8" cy="345.6" r="1.3"/><circle cx="537.8" cy="348.7" r="1.3"/><circle cx="537.8" cy="351.8" r="1.3"/><circle cx="537.8" cy="354.9" r="1.3"/><circle cx="537.8" cy="366.2" r="1.3"/><circle cx="537.8" cy="391.8" r="1.3"/><circle cx="537.8" cy="393.7" r="1.3"/><circle cx="537.8" cy="395.5" r="1.3"/><circle cx="537.8" cy="397.4" r="1.3"/><circle cx="537.8" cy="399.2" r="1.3"/><circle cx="537.8" cy="401.1" r="1.3"/><circle cx="537.8" cy="402.9" r="1.3"/><circle cx="537.8" cy="404.8" r="1.3"/><circle cx="537.8" cy="406.6" r="1.3"/><circle cx="537.8" cy="408.5" r="1.3"/><circle cx="537.8" cy="410.3" r="1.3"/><circle cx="540.9" cy="328.6" r="1.3"/><circle cx="540.9" cy="330.2" r="1.3"/><circle cx="540.9" cy="348.7" r="1.3"/><circle cx="540.9" cy="351.8" r="1.3"/><circle cx="540.9" cy="355.9" r="1.3"/><circle cx="540.9" cy="357.9" r="1.3"/><circle cx="540.9" cy="360.0" r="1.3"/><circle cx="540.9" cy="363.1" r="1.3"/><circle cx="540.9" cy="368.2" r="1.3"/><circle cx="540.9" cy="389.8" r="1.3"/><circle cx="543.6" cy="314.8" r="1.3"/><circle cx="543.6" cy="316.2" r="1.3"/><circle cx="543.6" cy="331.2" r="1.3"/><circle cx="543.6" cy="333.3" r="1.3"/><circle cx="543.6" cy="335.3" r="1.3"/><circle cx="543.6" cy="338.4" r="1.3"/><circle cx="543.6" cy="340.5" r="1.3"/><circle cx="543.6" cy="344.6" r="1.3"/><circle cx="543.6" cy="354.9" r="1.3"/><circle cx="543.6" cy="356.9" r="1.3"/><circle cx="543.6" cy="359.0" r="1.3"/><circle cx="543.6" cy="363.1" r="1.3"/><circle cx="543.6" cy="364.7" r="1.3"/><circle cx="543.6" cy="389.8" r="1.3"/><circle cx="543.6" cy="396.0" r="1.3"/><circle cx="552.6" cy="330.6" r="1.3"/><circle cx="552.6" cy="336.4" r="1.3"/><circle cx="552.6" cy="353.8" r="1.3"/><circle cx="552.6" cy="355.9" r="1.3"/><circle cx="552.6" cy="360.0" r="1.3"/><circle cx="552.6" cy="362.0" r="1.3"/><circle cx="552.6" cy="364.1" r="1.3"/><circle cx="552.6" cy="365.5" r="1.3"/><circle cx="552.6" cy="377.5" r="1.3"/><circle cx="552.6" cy="385.7" r="1.3"/><circle cx="555.7" cy="337.4" r="1.3"/><circle cx="555.7" cy="339.4" r="1.3"/><circle cx="555.7" cy="346.6" r="1.3"/><circle cx="555.7" cy="352.8" r="1.3"/><circle cx="555.7" cy="360.0" r="1.3"/><circle cx="555.7" cy="362.0" r="1.3"/><circle cx="555.7" cy="364.1" r="1.3"/><circle cx="555.7" cy="365.5" r="1.3"/><circle cx="558.8" cy="336.0" r="1.3"/><circle cx="558.8" cy="339.4" r="1.3"/><circle cx="558.8" cy="343.6" r="1.3"/><circle cx="558.8" cy="348.7" r="1.3"/><circle cx="558.8" cy="354.9" r="1.3"/><circle cx="558.8" cy="356.9" r="1.3"/><circle cx="558.8" cy="360.0" r="1.3"/><circle cx="558.8" cy="362.0" r="1.3"/><circle cx="558.8" cy="364.1" r="1.3"/><circle cx="558.8" cy="365.5" r="1.3"/><circle cx="558.8" cy="370.3" r="1.3"/><circle cx="409.5" cy="335.5" r="1.3"/><circle cx="409.5" cy="341.0" r="1.3"/><circle cx="409.5" cy="344.0" r="1.3"/><circle cx="454.0" cy="341.5" r="1.3"/><circle cx="454.0" cy="345.0" r="1.3"/><circle cx="454.0" cy="347.5" r="1.3"/></g></g>
<g id="p5"><rect x="44.30" y="494.80" width="15.90" height="8.50" fill="url(#gg)" stroke="#0a6e0a" stroke-width="0.6"/>
<rect x="92.00" y="502.70" width="15.90" height="0.60" fill="url(#gg)" stroke="#0a6e0a" stroke-width="0.6"/>
<rect x="107.90" y="465.10" width="15.90" height="38.20" fill="url(#gg)" stroke="#0a6e0a" stroke-width="0.6"/>
<rect x="123.80" y="457.90" width="15.90" height="45.40" fill="url(#gg)" stroke="#0a6e0a" stroke-width="0.6"/>
<rect x="155.60" y="502.70" width="15.90" height="0.60" fill="url(#gg)" stroke="#0a6e0a" stroke-width="0.6"/>
<rect x="235.10" y="502.70" width="15.90" height="0.60" fill="url(#gg)" stroke="#0a6e0a" stroke-width="0.6"/>
<rect x="266.70" y="636.37" width="2.90" height="8.32" fill="url(#rg)" stroke="#4a0000" stroke-width="0.7"/>
<rect x="266.70" y="628.05" width="11.60" height="8.32" fill="url(#rg)" stroke="#4a0000" stroke-width="0.7"/>
<rect x="266.70" y="619.73" width="26.80" height="8.32" fill="url(#rg)" stroke="#4a0000" stroke-width="0.7"/>
<rect x="266.70" y="611.42" width="17.20" height="8.32" fill="url(#rg)" stroke="#4a0000" stroke-width="0.7"/>
<rect x="266.70" y="603.10" width="19.80" height="8.32" fill="url(#rg)" stroke="#4a0000" stroke-width="0.7"/>
<rect x="266.70" y="594.78" width="26.80" height="8.32" fill="url(#rg)" stroke="#4a0000" stroke-width="0.7"/>
<rect x="266.70" y="586.47" width="66.00" height="8.32" fill="url(#rg)" stroke="#4a0000" stroke-width="0.7"/>
<rect x="266.70" y="578.15" width="51.70" height="8.32" fill="url(#rg)" stroke="#4a0000" stroke-width="0.7"/>
<rect x="266.70" y="569.83" width="39.50" height="8.32" fill="url(#rg)" stroke="#4a0000" stroke-width="0.7"/>
<rect x="266.70" y="561.52" width="25.90" height="8.32" fill="url(#rg)" stroke="#4a0000" stroke-width="0.7"/>
<rect x="266.70" y="553.20" width="16.60" height="8.32" fill="url(#rg)" stroke="#4a0000" stroke-width="0.7"/>
<rect x="266.70" y="544.88" width="13.30" height="8.32" fill="url(#rg)" stroke="#4a0000" stroke-width="0.7"/>
<rect x="266.70" y="536.57" width="16.60" height="8.32" fill="url(#rg)" stroke="#4a0000" stroke-width="0.7"/>
<rect x="266.70" y="528.25" width="4.50" height="8.32" fill="url(#rg)" stroke="#4a0000" stroke-width="0.7"/>
<rect x="266.70" y="519.93" width="5.90" height="8.32" fill="url(#rg)" stroke="#4a0000" stroke-width="0.7"/>
<rect x="266.70" y="511.62" width="1.50" height="8.32" fill="url(#rg)" stroke="#4a0000" stroke-width="0.7"/>
<path d="M266.70 503.30V653.00" stroke="#444" stroke-width="0.8" fill="none"/>
<path d="M25.10 503.30H266.70" stroke="#444" stroke-width="0.8" fill="none"/>
<path d="M28.60 503.30V653.00M25.10 653.00H266.70" stroke="#444" stroke-width="0.9" fill="none"/>
<path d="M25.10 653.00H28.60M26.80 644.68H28.60M25.10 636.37H28.60M26.80 628.05H28.60M25.10 619.73H28.60M26.80 611.42H28.60M25.10 603.10H28.60M26.80 594.78H28.60M25.10 586.47H28.60M26.80 578.15H28.60M25.10 569.83H28.60M26.80 561.52H28.60M25.10 553.20H28.60M26.80 544.88H28.60M25.10 536.57H28.60M26.80 528.25H28.60M25.10 519.93H28.60M26.80 511.62H28.60M25.10 503.30H28.60M44.47 653.00v3.3M76.22 653.00v3.3M107.97 653.00v3.3M139.71 653.00v3.3M171.46 653.00v3.3M203.21 653.00v3.3M234.95 653.00v3.3M266.70 653.00v3.3M28.60 653.00v1.6M60.35 653.00v1.6M92.09 653.00v1.6M123.84 653.00v1.6M155.59 653.00v1.6M187.33 653.00v1.6M219.08 653.00v1.6M250.83 653.00v1.6" stroke="#444" stroke-width="0.8" fill="none"/>
<g font-size="8.35" fill="#1a1a1a"><text transform="translate(22.30 655.95) scale(0.92 1)" text-anchor="end">0</text><text transform="translate(22.30 639.32) scale(0.92 1)" text-anchor="end">10</text><text transform="translate(22.30 622.68) scale(0.92 1)" text-anchor="end">20</text><text transform="translate(22.30 606.05) scale(0.92 1)" text-anchor="end">30</text><text transform="translate(22.30 589.42) scale(0.92 1)" text-anchor="end">40</text><text transform="translate(22.30 572.78) scale(0.92 1)" text-anchor="end">50</text><text transform="translate(22.30 556.15) scale(0.92 1)" text-anchor="end">60</text><text transform="translate(22.30 539.52) scale(0.92 1)" text-anchor="end">70</text><text transform="translate(22.30 522.88) scale(0.92 1)" text-anchor="end">80</text><text transform="translate(22.30 506.25) scale(0.92 1)" text-anchor="end">90</text><text transform="translate(44.47 665.90) scale(0.92 1)" text-anchor="middle">0</text><text transform="translate(76.22 665.90) scale(0.92 1)" text-anchor="middle">1</text><text transform="translate(107.97 665.90) scale(0.92 1)" text-anchor="middle">2</text><text transform="translate(139.71 665.90) scale(0.92 1)" text-anchor="middle">3</text><text transform="translate(171.46 665.90) scale(0.92 1)" text-anchor="middle">4</text><text transform="translate(203.21 665.90) scale(0.92 1)" text-anchor="middle">5</text><text transform="translate(234.95 665.90) scale(0.92 1)" text-anchor="middle">6</text><text transform="translate(266.70 665.90) scale(0.92 1)" text-anchor="middle">7</text></g>
<text x="147.65" y="678.70" text-anchor="middle" font-size="12.3" fill="#111" stroke="#111" stroke-width="0.12">SG(SSD)</text>
<text transform="translate(10.00 578.15) rotate(-90)" text-anchor="middle" font-size="12.6" fill="#111" stroke="#111" stroke-width="0.25">f'c</text>
<g fill="#09bf09"><circle cx="44.3" cy="560.3" r="1.3"/><circle cx="44.3" cy="564.5" r="1.3"/><circle cx="44.3" cy="566.5" r="1.3"/><circle cx="44.3" cy="568.4" r="1.3"/><circle cx="44.3" cy="570.3" r="1.3"/><circle cx="44.3" cy="572.2" r="1.3"/><circle cx="44.3" cy="574.1" r="1.3"/><circle cx="44.3" cy="576.0" r="1.3"/><circle cx="44.3" cy="580.3" r="1.3"/><circle cx="44.3" cy="587.3" r="1.3"/><circle cx="44.3" cy="594.8" r="1.3"/><circle cx="44.3" cy="596.7" r="1.3"/><circle cx="44.3" cy="598.6" r="1.3"/><circle cx="44.3" cy="600.5" r="1.3"/><circle cx="44.3" cy="602.4" r="1.3"/><circle cx="44.3" cy="604.3" r="1.3"/><circle cx="44.3" cy="606.3" r="1.3"/><circle cx="44.3" cy="610.1" r="1.3"/><circle cx="121.3" cy="590.3" r="1.3"/><circle cx="123.5" cy="625.7" r="1.3"/><circle cx="121.1" cy="535.3" r="1.3"/><circle cx="124.7" cy="559.5" r="1.3"/><circle cx="120.1" cy="600.9" r="1.3"/><circle cx="127.8" cy="537.6" r="1.3"/><circle cx="129.8" cy="561.1" r="1.3"/><circle cx="126.2" cy="549.0" r="1.3"/><circle cx="117.8" cy="586.3" r="1.3"/><circle cx="129.4" cy="562.5" r="1.3"/><circle cx="127.3" cy="534.2" r="1.3"/><circle cx="125.1" cy="580.6" r="1.3"/><circle cx="122.3" cy="538.6" r="1.3"/><circle cx="119.0" cy="590.1" r="1.3"/><circle cx="122.4" cy="629.8" r="1.3"/><circle cx="131.5" cy="575.5" r="1.3"/><circle cx="119.9" cy="617.6" r="1.3"/><circle cx="119.1" cy="627.4" r="1.3"/><circle cx="122.1" cy="581.5" r="1.3"/><circle cx="125.2" cy="586.2" r="1.3"/><circle cx="127.7" cy="599.2" r="1.3"/><circle cx="124.0" cy="549.0" r="1.3"/><circle cx="128.0" cy="600.9" r="1.3"/><circle cx="122.0" cy="594.5" r="1.3"/><circle cx="121.7" cy="580.7" r="1.3"/><circle cx="125.5" cy="570.3" r="1.3"/><circle cx="121.2" cy="602.7" r="1.3"/><circle cx="127.0" cy="576.3" r="1.3"/><circle cx="122.4" cy="563.5" r="1.3"/><circle cx="125.8" cy="533.7" r="1.3"/><circle cx="125.4" cy="567.7" r="1.3"/><circle cx="128.8" cy="595.1" r="1.3"/><circle cx="124.3" cy="584.8" r="1.3"/><circle cx="127.7" cy="570.1" r="1.3"/><circle cx="123.9" cy="616.4" r="1.3"/><circle cx="128.6" cy="619.2" r="1.3"/><circle cx="126.0" cy="624.7" r="1.3"/><circle cx="120.3" cy="569.7" r="1.3"/><circle cx="128.5" cy="541.9" r="1.3"/><circle cx="131.1" cy="577.7" r="1.3"/><circle cx="122.0" cy="574.8" r="1.3"/><circle cx="124.1" cy="611.3" r="1.3"/><circle cx="124.7" cy="600.1" r="1.3"/><circle cx="125.0" cy="542.9" r="1.3"/><circle cx="125.1" cy="587.8" r="1.3"/><circle cx="119.8" cy="624.0" r="1.3"/><circle cx="124.7" cy="587.0" r="1.3"/><circle cx="128.0" cy="552.7" r="1.3"/><circle cx="123.7" cy="587.9" r="1.3"/><circle cx="120.9" cy="635.8" r="1.3"/><circle cx="125.4" cy="542.5" r="1.3"/><circle cx="116.3" cy="592.4" r="1.3"/><circle cx="125.2" cy="539.5" r="1.3"/><circle cx="128.6" cy="592.4" r="1.3"/><circle cx="124.4" cy="638.4" r="1.3"/><circle cx="123.0" cy="544.4" r="1.3"/><circle cx="131.0" cy="599.0" r="1.3"/><circle cx="121.2" cy="592.6" r="1.3"/><circle cx="125.4" cy="590.5" r="1.3"/><circle cx="123.7" cy="563.5" r="1.3"/><circle cx="122.3" cy="563.2" r="1.3"/><circle cx="121.6" cy="591.6" r="1.3"/><circle cx="126.2" cy="569.0" r="1.3"/><circle cx="128.2" cy="602.5" r="1.3"/><circle cx="118.7" cy="631.7" r="1.3"/><circle cx="133.6" cy="544.7" r="1.3"/><circle cx="126.2" cy="602.3" r="1.3"/><circle cx="126.4" cy="574.3" r="1.3"/><circle cx="119.5" cy="599.5" r="1.3"/><circle cx="120.9" cy="570.9" r="1.3"/><circle cx="125.5" cy="577.0" r="1.3"/><circle cx="121.5" cy="583.2" r="1.3"/><circle cx="124.1" cy="576.3" r="1.3"/><circle cx="124.4" cy="612.3" r="1.3"/><circle cx="115.6" cy="583.6" r="1.3"/><circle cx="130.0" cy="584.4" r="1.3"/><circle cx="126.1" cy="564.2" r="1.3"/><circle cx="123.5" cy="587.8" r="1.3"/><circle cx="127.7" cy="553.7" r="1.3"/><circle cx="122.8" cy="618.1" r="1.3"/><circle cx="128.8" cy="531.4" r="1.3"/><circle cx="123.5" cy="557.6" r="1.3"/><circle cx="124.7" cy="596.5" r="1.3"/><circle cx="123.3" cy="581.2" r="1.3"/><circle cx="123.8" cy="608.3" r="1.3"/><circle cx="124.9" cy="598.0" r="1.3"/><circle cx="127.0" cy="576.3" r="1.3"/><circle cx="124.3" cy="576.4" r="1.3"/><circle cx="124.5" cy="593.0" r="1.3"/><circle cx="119.0" cy="627.1" r="1.3"/><circle cx="122.6" cy="590.1" r="1.3"/><circle cx="121.7" cy="613.9" r="1.3"/><circle cx="120.5" cy="592.3" r="1.3"/><circle cx="131.1" cy="589.9" r="1.3"/><circle cx="130.8" cy="591.2" r="1.3"/><circle cx="115.0" cy="593.0" r="1.3"/><circle cx="131.2" cy="576.3" r="1.3"/><circle cx="123.8" cy="587.8" r="1.3"/><circle cx="121.7" cy="587.3" r="1.3"/><circle cx="122.1" cy="631.7" r="1.3"/><circle cx="127.9" cy="578.7" r="1.3"/><circle cx="125.9" cy="590.5" r="1.3"/><circle cx="116.9" cy="617.3" r="1.3"/><circle cx="121.4" cy="623.9" r="1.3"/><circle cx="125.2" cy="561.6" r="1.3"/><circle cx="127.3" cy="536.5" r="1.3"/><circle cx="126.2" cy="594.2" r="1.3"/><circle cx="123.8" cy="547.8" r="1.3"/><circle cx="124.9" cy="568.3" r="1.3"/><circle cx="121.3" cy="587.6" r="1.3"/><circle cx="125.1" cy="568.1" r="1.3"/><circle cx="127.1" cy="583.1" r="1.3"/><circle cx="121.5" cy="617.6" r="1.3"/><circle cx="116.7" cy="631.6" r="1.3"/><circle cx="125.2" cy="569.3" r="1.3"/><circle cx="122.4" cy="581.7" r="1.3"/><circle cx="119.9" cy="583.8" r="1.3"/><circle cx="125.6" cy="589.2" r="1.3"/><circle cx="128.0" cy="591.0" r="1.3"/><circle cx="124.1" cy="592.7" r="1.3"/><circle cx="122.6" cy="563.1" r="1.3"/><circle cx="123.9" cy="593.8" r="1.3"/><circle cx="124.6" cy="616.1" r="1.3"/><circle cx="125.6" cy="586.0" r="1.3"/><circle cx="123.1" cy="585.6" r="1.3"/><circle cx="118.0" cy="585.9" r="1.3"/><circle cx="125.5" cy="583.2" r="1.3"/><circle cx="124.5" cy="553.0" r="1.3"/><circle cx="127.5" cy="571.2" r="1.3"/><circle cx="132.4" cy="586.7" r="1.3"/><circle cx="126.9" cy="551.6" r="1.3"/><circle cx="116.7" cy="625.1" r="1.3"/><circle cx="126.2" cy="576.7" r="1.3"/><circle cx="122.8" cy="568.5" r="1.3"/><circle cx="124.6" cy="578.7" r="1.3"/><circle cx="126.2" cy="583.7" r="1.3"/><circle cx="124.6" cy="634.8" r="1.3"/><circle cx="130.9" cy="570.5" r="1.3"/><circle cx="124.7" cy="613.1" r="1.3"/><circle cx="126.5" cy="583.3" r="1.3"/><circle cx="118.9" cy="556.7" r="1.3"/><circle cx="119.9" cy="619.7" r="1.3"/><circle cx="124.6" cy="583.0" r="1.3"/><circle cx="123.8" cy="523.2" r="1.3"/><circle cx="121.6" cy="588.3" r="1.3"/><circle cx="124.7" cy="577.6" r="1.3"/><circle cx="118.3" cy="567.5" r="1.3"/><circle cx="116.6" cy="580.8" r="1.3"/><circle cx="125.1" cy="594.6" r="1.3"/><circle cx="124.2" cy="582.7" r="1.3"/><circle cx="125.6" cy="578.9" r="1.3"/><circle cx="125.8" cy="577.8" r="1.3"/><circle cx="122.6" cy="625.0" r="1.3"/><circle cx="128.0" cy="584.6" r="1.3"/><circle cx="128.9" cy="582.4" r="1.3"/><circle cx="128.8" cy="601.7" r="1.3"/><circle cx="125.0" cy="622.7" r="1.3"/><circle cx="119.2" cy="592.5" r="1.3"/><circle cx="119.7" cy="631.0" r="1.3"/><circle cx="123.0" cy="574.3" r="1.3"/><circle cx="125.7" cy="538.5" r="1.3"/><circle cx="127.3" cy="623.6" r="1.3"/><circle cx="128.7" cy="592.7" r="1.3"/><circle cx="123.3" cy="631.7" r="1.3"/><circle cx="126.8" cy="543.5" r="1.3"/><circle cx="128.2" cy="581.0" r="1.3"/><circle cx="123.4" cy="568.2" r="1.3"/><circle cx="124.1" cy="620.6" r="1.3"/><circle cx="131.0" cy="563.7" r="1.3"/><circle cx="124.4" cy="574.1" r="1.3"/><circle cx="124.4" cy="574.2" r="1.3"/><circle cx="124.5" cy="602.7" r="1.3"/><circle cx="121.4" cy="588.4" r="1.3"/><circle cx="118.1" cy="575.8" r="1.3"/><circle cx="124.8" cy="582.7" r="1.3"/><circle cx="119.3" cy="597.6" r="1.3"/><circle cx="125.9" cy="542.8" r="1.3"/><circle cx="122.6" cy="601.0" r="1.3"/><circle cx="124.3" cy="570.1" r="1.3"/><circle cx="122.2" cy="550.2" r="1.3"/><circle cx="119.8" cy="595.4" r="1.3"/><circle cx="120.6" cy="569.8" r="1.3"/><circle cx="121.5" cy="587.7" r="1.3"/><circle cx="117.4" cy="588.6" r="1.3"/><circle cx="124.8" cy="583.8" r="1.3"/><circle cx="125.5" cy="620.4" r="1.3"/><circle cx="126.6" cy="619.4" r="1.3"/><circle cx="128.1" cy="593.5" r="1.3"/><circle cx="120.4" cy="636.0" r="1.3"/><circle cx="119.9" cy="571.8" r="1.3"/><circle cx="119.2" cy="623.1" r="1.3"/><circle cx="129.3" cy="562.2" r="1.3"/><circle cx="127.2" cy="620.8" r="1.3"/><circle cx="119.0" cy="626.3" r="1.3"/><circle cx="124.5" cy="627.7" r="1.3"/><circle cx="119.0" cy="579.4" r="1.3"/><circle cx="125.0" cy="583.9" r="1.3"/><circle cx="125.3" cy="567.9" r="1.3"/><circle cx="126.0" cy="591.1" r="1.3"/><circle cx="123.5" cy="597.0" r="1.3"/><circle cx="127.2" cy="592.0" r="1.3"/><circle cx="124.0" cy="556.2" r="1.3"/><circle cx="117.9" cy="632.9" r="1.3"/><circle cx="125.8" cy="588.8" r="1.3"/><circle cx="124.7" cy="584.5" r="1.3"/><circle cx="123.3" cy="568.2" r="1.3"/><circle cx="128.5" cy="561.5" r="1.3"/><circle cx="123.7" cy="588.0" r="1.3"/><circle cx="120.2" cy="607.2" r="1.3"/><circle cx="128.4" cy="595.1" r="1.3"/><circle cx="121.8" cy="601.2" r="1.3"/><circle cx="119.5" cy="622.7" r="1.3"/><circle cx="120.8" cy="621.4" r="1.3"/><circle cx="118.3" cy="583.4" r="1.3"/><circle cx="124.5" cy="591.4" r="1.3"/><circle cx="124.2" cy="552.8" r="1.3"/><circle cx="125.0" cy="609.1" r="1.3"/><circle cx="121.3" cy="587.3" r="1.3"/><circle cx="117.7" cy="599.1" r="1.3"/><circle cx="123.1" cy="572.6" r="1.3"/><circle cx="127.0" cy="591.9" r="1.3"/><circle cx="129.5" cy="571.8" r="1.3"/><circle cx="123.2" cy="607.7" r="1.3"/><circle cx="119.3" cy="615.8" r="1.3"/><circle cx="126.1" cy="551.0" r="1.3"/><circle cx="126.9" cy="571.0" r="1.3"/><circle cx="122.3" cy="618.4" r="1.3"/><circle cx="126.6" cy="585.0" r="1.3"/><circle cx="128.6" cy="593.1" r="1.3"/><circle cx="121.6" cy="620.0" r="1.3"/><circle cx="126.3" cy="624.8" r="1.3"/><circle cx="123.6" cy="574.4" r="1.3"/><circle cx="124.1" cy="606.0" r="1.3"/><circle cx="124.7" cy="594.4" r="1.3"/><circle cx="122.2" cy="588.1" r="1.3"/><circle cx="120.2" cy="582.5" r="1.3"/><circle cx="119.2" cy="614.6" r="1.3"/><circle cx="128.2" cy="549.4" r="1.3"/><circle cx="121.8" cy="580.1" r="1.3"/><circle cx="125.4" cy="570.6" r="1.3"/><circle cx="127.6" cy="563.8" r="1.3"/><circle cx="119.8" cy="582.5" r="1.3"/><circle cx="126.3" cy="589.4" r="1.3"/><circle cx="126.6" cy="563.7" r="1.3"/><circle cx="120.5" cy="584.2" r="1.3"/><circle cx="125.5" cy="582.9" r="1.3"/><circle cx="126.3" cy="570.2" r="1.3"/><circle cx="128.9" cy="566.4" r="1.3"/><circle cx="127.7" cy="586.5" r="1.3"/><circle cx="123.2" cy="613.1" r="1.3"/><circle cx="129.0" cy="540.3" r="1.3"/><circle cx="126.5" cy="580.3" r="1.3"/><circle cx="125.8" cy="581.0" r="1.3"/><circle cx="120.1" cy="586.8" r="1.3"/><circle cx="119.7" cy="605.6" r="1.3"/><circle cx="125.1" cy="611.5" r="1.3"/><circle cx="122.8" cy="594.2" r="1.3"/><circle cx="124.1" cy="632.8" r="1.3"/><circle cx="122.0" cy="588.8" r="1.3"/><circle cx="124.4" cy="605.1" r="1.3"/><circle cx="126.7" cy="540.3" r="1.3"/><circle cx="129.2" cy="592.9" r="1.3"/><circle cx="123.8" cy="613.2" r="1.3"/><circle cx="119.1" cy="590.0" r="1.3"/><circle cx="120.4" cy="595.0" r="1.3"/><circle cx="128.4" cy="562.8" r="1.3"/><circle cx="121.8" cy="592.2" r="1.3"/><circle cx="124.3" cy="558.4" r="1.3"/><circle cx="123.0" cy="559.1" r="1.3"/><circle cx="125.1" cy="593.1" r="1.3"/><circle cx="121.1" cy="638.6" r="1.3"/><circle cx="125.5" cy="599.0" r="1.3"/><circle cx="121.8" cy="589.3" r="1.3"/><circle cx="123.0" cy="537.5" r="1.3"/><circle cx="125.7" cy="621.1" r="1.3"/><circle cx="120.2" cy="612.7" r="1.3"/><circle cx="131.8" cy="586.2" r="1.3"/><circle cx="124.7" cy="575.9" r="1.3"/><circle cx="122.4" cy="626.8" r="1.3"/><circle cx="129.0" cy="593.4" r="1.3"/><circle cx="128.7" cy="546.4" r="1.3"/><circle cx="130.0" cy="579.8" r="1.3"/><circle cx="125.8" cy="570.5" r="1.3"/><circle cx="118.4" cy="605.6" r="1.3"/><circle cx="117.6" cy="580.1" r="1.3"/><circle cx="126.3" cy="584.1" r="1.3"/><circle cx="121.9" cy="601.8" r="1.3"/><circle cx="123.4" cy="593.5" r="1.3"/><circle cx="117.1" cy="590.5" r="1.3"/><circle cx="120.3" cy="637.7" r="1.3"/><circle cx="120.3" cy="590.0" r="1.3"/><circle cx="118.0" cy="591.2" r="1.3"/><circle cx="122.4" cy="544.0" r="1.3"/><circle cx="119.2" cy="631.2" r="1.3"/><circle cx="119.8" cy="570.2" r="1.3"/><circle cx="132.0" cy="582.3" r="1.3"/><circle cx="124.1" cy="552.7" r="1.3"/><circle cx="119.1" cy="587.5" r="1.3"/><circle cx="117.9" cy="590.7" r="1.3"/><circle cx="122.1" cy="607.7" r="1.3"/><circle cx="124.8" cy="590.0" r="1.3"/><circle cx="122.0" cy="566.3" r="1.3"/><circle cx="114.8" cy="584.1" r="1.3"/><circle cx="123.9" cy="571.4" r="1.3"/><circle cx="122.1" cy="592.0" r="1.3"/><circle cx="128.1" cy="579.8" r="1.3"/><circle cx="124.1" cy="630.3" r="1.3"/><circle cx="120.0" cy="625.5" r="1.3"/><circle cx="122.4" cy="539.6" r="1.3"/><circle cx="120.4" cy="547.9" r="1.3"/><circle cx="122.4" cy="581.1" r="1.3"/><circle cx="119.9" cy="576.2" r="1.3"/><circle cx="124.3" cy="574.2" r="1.3"/><circle cx="121.5" cy="611.0" r="1.3"/><circle cx="122.9" cy="562.0" r="1.3"/><circle cx="122.0" cy="563.1" r="1.3"/><circle cx="122.6" cy="584.2" r="1.3"/><circle cx="126.7" cy="591.1" r="1.3"/><circle cx="128.0" cy="578.5" r="1.3"/><circle cx="122.7" cy="635.3" r="1.3"/><circle cx="127.7" cy="564.9" r="1.3"/><circle cx="120.4" cy="633.1" r="1.3"/><circle cx="127.7" cy="578.5" r="1.3"/><circle cx="122.9" cy="593.8" r="1.3"/><circle cx="124.4" cy="576.2" r="1.3"/><circle cx="121.8" cy="639.0" r="1.3"/><circle cx="126.7" cy="611.6" r="1.3"/><circle cx="124.8" cy="619.5" r="1.3"/><circle cx="123.9" cy="576.0" r="1.3"/><circle cx="120.6" cy="621.5" r="1.3"/><circle cx="124.1" cy="570.9" r="1.3"/><circle cx="122.5" cy="580.4" r="1.3"/><circle cx="123.4" cy="586.9" r="1.3"/><circle cx="132.5" cy="577.9" r="1.3"/><circle cx="122.2" cy="630.9" r="1.3"/><circle cx="122.3" cy="588.6" r="1.3"/><circle cx="121.7" cy="612.5" r="1.3"/><circle cx="123.6" cy="589.9" r="1.3"/><circle cx="127.2" cy="589.0" r="1.3"/><circle cx="128.2" cy="589.3" r="1.3"/><circle cx="119.4" cy="582.8" r="1.3"/><circle cx="129.5" cy="538.1" r="1.3"/><circle cx="132.0" cy="583.9" r="1.3"/><circle cx="127.6" cy="571.1" r="1.3"/><circle cx="129.7" cy="589.6" r="1.3"/><circle cx="122.9" cy="583.7" r="1.3"/><circle cx="120.0" cy="587.3" r="1.3"/><circle cx="127.5" cy="578.9" r="1.3"/><circle cx="127.0" cy="567.3" r="1.3"/><circle cx="123.5" cy="589.8" r="1.3"/><circle cx="130.7" cy="562.3" r="1.3"/><circle cx="126.3" cy="562.4" r="1.3"/><circle cx="127.3" cy="584.0" r="1.3"/><circle cx="119.5" cy="570.4" r="1.3"/><circle cx="117.8" cy="593.9" r="1.3"/><circle cx="121.5" cy="605.1" r="1.3"/><circle cx="121.6" cy="542.7" r="1.3"/><circle cx="120.3" cy="592.9" r="1.3"/><circle cx="124.2" cy="596.7" r="1.3"/><circle cx="119.6" cy="621.3" r="1.3"/><circle cx="118.3" cy="567.7" r="1.3"/><circle cx="121.8" cy="548.6" r="1.3"/><circle cx="124.3" cy="589.7" r="1.3"/><circle cx="124.3" cy="605.5" r="1.3"/><circle cx="120.2" cy="590.0" r="1.3"/><circle cx="123.9" cy="619.3" r="1.3"/><circle cx="130.2" cy="516.5" r="1.3"/><circle cx="127.3" cy="568.3" r="1.3"/><circle cx="123.1" cy="583.4" r="1.3"/><circle cx="121.9" cy="628.1" r="1.3"/><circle cx="106.0" cy="614.5" r="1.3"/><circle cx="106.0" cy="636.3" r="1.3"/><circle cx="111.9" cy="609.7" r="1.3"/><circle cx="111.9" cy="633.1" r="1.3"/><circle cx="134.9" cy="563.5" r="1.3"/><circle cx="137.4" cy="583.7" r="1.3"/><circle cx="134.9" cy="576.3" r="1.3"/><circle cx="134.9" cy="592.6" r="1.3"/><circle cx="134.9" cy="599.0" r="1.3"/><circle cx="134.9" cy="615.0" r="1.3"/><circle cx="130.0" cy="615.0" r="1.3"/><circle cx="127.9" cy="626.7" r="1.3"/><circle cx="116.2" cy="580.9" r="1.3"/><circle cx="116.2" cy="596.9" r="1.3"/><circle cx="126.8" cy="515.6" r="1.3"/><circle cx="121.5" cy="639.9" r="1.3"/><circle cx="160.0" cy="589.4" r="1.3"/><circle cx="242.0" cy="592.9" r="1.3"/></g></g>
<g id="p6"><rect x="396.90" y="464.70" width="13.63" height="38.60" fill="url(#gg)" stroke="#0a6e0a" stroke-width="0.6"/>
<rect x="410.53" y="457.90" width="13.63" height="45.40" fill="url(#gg)" stroke="#0a6e0a" stroke-width="0.6"/>
<rect x="424.16" y="477.70" width="13.63" height="25.60" fill="url(#gg)" stroke="#0a6e0a" stroke-width="0.6"/>
<rect x="437.79" y="491.20" width="13.63" height="12.10" fill="url(#gg)" stroke="#0a6e0a" stroke-width="0.6"/>
<rect x="451.42" y="499.20" width="13.63" height="4.10" fill="url(#gg)" stroke="#0a6e0a" stroke-width="0.6"/>
<rect x="465.05" y="501.90" width="13.63" height="1.40" fill="url(#gg)" stroke="#0a6e0a" stroke-width="0.6"/>
<rect x="478.68" y="502.40" width="13.63" height="0.90" fill="url(#gg)" stroke="#0a6e0a" stroke-width="0.6"/>
<rect x="505.94" y="502.60" width="13.63" height="0.70" fill="url(#gg)" stroke="#0a6e0a" stroke-width="0.6"/>
<rect x="587.72" y="502.40" width="13.63" height="0.90" fill="url(#gg)" stroke="#0a6e0a" stroke-width="0.6"/>
<rect x="618.30" y="636.37" width="2.90" height="8.32" fill="url(#rg)" stroke="#4a0000" stroke-width="0.7"/>
<rect x="618.30" y="628.05" width="11.60" height="8.32" fill="url(#rg)" stroke="#4a0000" stroke-width="0.7"/>
<rect x="618.30" y="619.73" width="26.80" height="8.32" fill="url(#rg)" stroke="#4a0000" stroke-width="0.7"/>
<rect x="618.30" y="611.42" width="17.20" height="8.32" fill="url(#rg)" stroke="#4a0000" stroke-width="0.7"/>
<rect x="618.30" y="603.10" width="19.80" height="8.32" fill="url(#rg)" stroke="#4a0000" stroke-width="0.7"/>
<rect x="618.30" y="594.78" width="26.80" height="8.32" fill="url(#rg)" stroke="#4a0000" stroke-width="0.7"/>
<rect x="618.30" y="586.47" width="66.00" height="8.32" fill="url(#rg)" stroke="#4a0000" stroke-width="0.7"/>
<rect x="618.30" y="578.15" width="51.70" height="8.32" fill="url(#rg)" stroke="#4a0000" stroke-width="0.7"/>
<rect x="618.30" y="569.83" width="39.50" height="8.32" fill="url(#rg)" stroke="#4a0000" stroke-width="0.7"/>
<rect x="618.30" y="561.52" width="25.90" height="8.32" fill="url(#rg)" stroke="#4a0000" stroke-width="0.7"/>
<rect x="618.30" y="553.20" width="16.60" height="8.32" fill="url(#rg)" stroke="#4a0000" stroke-width="0.7"/>
<rect x="618.30" y="544.88" width="13.30" height="8.32" fill="url(#rg)" stroke="#4a0000" stroke-width="0.7"/>
<rect x="618.30" y="536.57" width="16.60" height="8.32" fill="url(#rg)" stroke="#4a0000" stroke-width="0.7"/>
<rect x="618.30" y="528.25" width="4.50" height="8.32" fill="url(#rg)" stroke="#4a0000" stroke-width="0.7"/>
<rect x="618.30" y="519.93" width="5.90" height="8.32" fill="url(#rg)" stroke="#4a0000" stroke-width="0.7"/>
<rect x="618.30" y="511.62" width="1.50" height="8.32" fill="url(#rg)" stroke="#4a0000" stroke-width="0.7"/>
<path d="M618.30 503.30V653.00" stroke="#444" stroke-width="0.8" fill="none"/>
<path d="M376.20 503.30H618.30" stroke="#444" stroke-width="0.8" fill="none"/>
<path d="M379.70 503.30V653.00M376.20 653.00H618.30" stroke="#444" stroke-width="0.9" fill="none"/>
<path d="M376.20 653.00H379.70M377.90 644.68H379.70M376.20 636.37H379.70M377.90 628.05H379.70M376.20 619.73H379.70M377.90 611.42H379.70M376.20 603.10H379.70M377.90 594.78H379.70M376.20 586.47H379.70M377.90 578.15H379.70M376.20 569.83H379.70M377.90 561.52H379.70M376.20 553.20H379.70M377.90 544.88H379.70M376.20 536.57H379.70M377.90 528.25H379.70M376.20 519.93H379.70M377.90 511.62H379.70M376.20 503.30H379.70M396.74 653.00v3.3M430.83 653.00v3.3M464.91 653.00v3.3M499.00 653.00v3.3M533.09 653.00v3.3M567.17 653.00v3.3M601.26 653.00v3.3M413.79 653.00v1.6M447.87 653.00v1.6M481.96 653.00v1.6M516.04 653.00v1.6M550.13 653.00v1.6M584.21 653.00v1.6M618.30 653.00v1.6M379.70 653.00v1.6" stroke="#444" stroke-width="0.8" fill="none"/>
<g font-size="8.35" fill="#1a1a1a"><text transform="translate(373.40 655.95) scale(0.92 1)" text-anchor="end">0</text><text transform="translate(373.40 639.32) scale(0.92 1)" text-anchor="end">10</text><text transform="translate(373.40 622.68) scale(0.92 1)" text-anchor="end">20</text><text transform="translate(373.40 606.05) scale(0.92 1)" text-anchor="end">30</text><text transform="translate(373.40 589.42) scale(0.92 1)" text-anchor="end">40</text><text transform="translate(373.40 572.78) scale(0.92 1)" text-anchor="end">50</text><text transform="translate(373.40 556.15) scale(0.92 1)" text-anchor="end">60</text><text transform="translate(373.40 539.52) scale(0.92 1)" text-anchor="end">70</text><text transform="translate(373.40 522.88) scale(0.92 1)" text-anchor="end">80</text><text transform="translate(373.40 506.25) scale(0.92 1)" text-anchor="end">90</text><text transform="translate(396.74 665.90) scale(0.92 1)" text-anchor="middle">0</text><text transform="translate(430.83 665.90) scale(0.92 1)" text-anchor="middle">5</text><text transform="translate(464.91 665.90) scale(0.92 1)" text-anchor="middle">10</text><text transform="translate(499.00 665.90) scale(0.92 1)" text-anchor="middle">15</text><text transform="translate(533.09 665.90) scale(0.92 1)" text-anchor="middle">20</text><text transform="translate(567.17 665.90) scale(0.92 1)" text-anchor="middle">25</text><text transform="translate(601.26 665.90) scale(0.92 1)" text-anchor="middle">30</text></g>
<text x="499.00" y="678.70" text-anchor="middle" font-size="12.3" fill="#111" stroke="#111" stroke-width="0.12">Wa</text>
<text transform="translate(361.10 578.15) rotate(-90)" text-anchor="middle" font-size="12.6" fill="#111" stroke="#111" stroke-width="0.25">f'c</text>
<g fill="#09bf09"><circle cx="422.7" cy="557.4" r="1.3"/><circle cx="446.8" cy="566.2" r="1.3"/><circle cx="407.8" cy="602.8" r="1.3"/><circle cx="422.1" cy="627.7" r="1.3"/><circle cx="409.7" cy="611.8" r="1.3"/><circle cx="414.7" cy="539.2" r="1.3"/><circle cx="441.6" cy="545.5" r="1.3"/><circle cx="405.8" cy="527.6" r="1.3"/><circle cx="411.2" cy="539.1" r="1.3"/><circle cx="412.1" cy="568.9" r="1.3"/><circle cx="433.5" cy="578.0" r="1.3"/><circle cx="408.5" cy="628.7" r="1.3"/><circle cx="416.9" cy="551.9" r="1.3"/><circle cx="426.4" cy="537.7" r="1.3"/><circle cx="418.2" cy="587.9" r="1.3"/><circle cx="415.4" cy="559.2" r="1.3"/><circle cx="412.5" cy="596.1" r="1.3"/><circle cx="408.2" cy="592.1" r="1.3"/><circle cx="407.8" cy="600.9" r="1.3"/><circle cx="410.9" cy="519.8" r="1.3"/><circle cx="449.3" cy="566.9" r="1.3"/><circle cx="422.9" cy="607.8" r="1.3"/><circle cx="433.0" cy="605.0" r="1.3"/><circle cx="432.6" cy="606.3" r="1.3"/><circle cx="402.7" cy="584.7" r="1.3"/><circle cx="451.4" cy="577.6" r="1.3"/><circle cx="407.3" cy="594.6" r="1.3"/><circle cx="413.8" cy="593.4" r="1.3"/><circle cx="404.9" cy="590.5" r="1.3"/><circle cx="412.0" cy="562.5" r="1.3"/><circle cx="402.5" cy="588.5" r="1.3"/><circle cx="420.7" cy="582.1" r="1.3"/><circle cx="431.8" cy="596.3" r="1.3"/><circle cx="423.2" cy="631.4" r="1.3"/><circle cx="405.0" cy="620.8" r="1.3"/><circle cx="415.2" cy="602.1" r="1.3"/><circle cx="405.9" cy="579.2" r="1.3"/><circle cx="448.1" cy="576.7" r="1.3"/><circle cx="450.9" cy="591.3" r="1.3"/><circle cx="440.3" cy="586.9" r="1.3"/><circle cx="416.4" cy="600.3" r="1.3"/><circle cx="446.1" cy="562.1" r="1.3"/><circle cx="409.5" cy="623.8" r="1.3"/><circle cx="402.8" cy="590.3" r="1.3"/><circle cx="445.1" cy="635.3" r="1.3"/><circle cx="425.9" cy="578.7" r="1.3"/><circle cx="411.4" cy="582.8" r="1.3"/><circle cx="410.1" cy="614.8" r="1.3"/><circle cx="405.3" cy="618.7" r="1.3"/><circle cx="403.6" cy="601.1" r="1.3"/><circle cx="422.9" cy="556.3" r="1.3"/><circle cx="417.5" cy="605.5" r="1.3"/><circle cx="411.6" cy="582.5" r="1.3"/><circle cx="414.3" cy="607.2" r="1.3"/><circle cx="402.7" cy="525.6" r="1.3"/><circle cx="435.7" cy="603.4" r="1.3"/><circle cx="429.9" cy="591.8" r="1.3"/><circle cx="420.1" cy="554.6" r="1.3"/><circle cx="418.1" cy="571.8" r="1.3"/><circle cx="405.2" cy="570.5" r="1.3"/><circle cx="423.8" cy="638.4" r="1.3"/><circle cx="441.2" cy="582.9" r="1.3"/><circle cx="417.1" cy="583.3" r="1.3"/><circle cx="414.6" cy="575.6" r="1.3"/><circle cx="441.7" cy="592.1" r="1.3"/><circle cx="407.2" cy="582.7" r="1.3"/><circle cx="423.5" cy="615.0" r="1.3"/><circle cx="450.5" cy="587.7" r="1.3"/><circle cx="401.8" cy="607.9" r="1.3"/><circle cx="421.2" cy="538.3" r="1.3"/><circle cx="430.7" cy="582.1" r="1.3"/><circle cx="413.1" cy="589.8" r="1.3"/><circle cx="404.1" cy="573.7" r="1.3"/><circle cx="423.1" cy="590.1" r="1.3"/><circle cx="416.6" cy="540.7" r="1.3"/><circle cx="420.7" cy="516.9" r="1.3"/><circle cx="419.9" cy="608.8" r="1.3"/><circle cx="415.8" cy="571.2" r="1.3"/><circle cx="419.5" cy="598.8" r="1.3"/><circle cx="424.8" cy="606.2" r="1.3"/><circle cx="401.5" cy="522.8" r="1.3"/><circle cx="398.6" cy="589.0" r="1.3"/><circle cx="407.6" cy="580.9" r="1.3"/><circle cx="427.7" cy="584.2" r="1.3"/><circle cx="415.4" cy="515.0" r="1.3"/><circle cx="425.4" cy="579.6" r="1.3"/><circle cx="439.4" cy="628.0" r="1.3"/><circle cx="410.1" cy="593.3" r="1.3"/><circle cx="413.0" cy="548.2" r="1.3"/><circle cx="425.9" cy="594.3" r="1.3"/><circle cx="414.6" cy="589.7" r="1.3"/><circle cx="422.4" cy="534.0" r="1.3"/><circle cx="415.1" cy="583.2" r="1.3"/><circle cx="403.8" cy="613.9" r="1.3"/><circle cx="414.1" cy="588.7" r="1.3"/><circle cx="419.5" cy="603.5" r="1.3"/><circle cx="432.5" cy="593.7" r="1.3"/><circle cx="413.7" cy="548.2" r="1.3"/><circle cx="419.9" cy="584.6" r="1.3"/><circle cx="414.4" cy="596.7" r="1.3"/><circle cx="414.6" cy="583.8" r="1.3"/><circle cx="412.0" cy="604.3" r="1.3"/><circle cx="408.7" cy="625.5" r="1.3"/><circle cx="431.9" cy="589.3" r="1.3"/><circle cx="426.4" cy="558.5" r="1.3"/><circle cx="427.1" cy="633.8" r="1.3"/><circle cx="409.7" cy="580.4" r="1.3"/><circle cx="398.0" cy="575.2" r="1.3"/><circle cx="454.2" cy="602.7" r="1.3"/><circle cx="403.6" cy="546.8" r="1.3"/><circle cx="403.7" cy="588.5" r="1.3"/><circle cx="431.2" cy="587.0" r="1.3"/><circle cx="417.1" cy="564.5" r="1.3"/><circle cx="419.8" cy="574.5" r="1.3"/><circle cx="427.0" cy="578.3" r="1.3"/><circle cx="413.3" cy="602.6" r="1.3"/><circle cx="405.5" cy="608.8" r="1.3"/><circle cx="420.0" cy="601.1" r="1.3"/><circle cx="411.2" cy="541.8" r="1.3"/><circle cx="412.5" cy="615.1" r="1.3"/><circle cx="429.2" cy="568.3" r="1.3"/><circle cx="410.9" cy="588.4" r="1.3"/><circle cx="410.6" cy="610.9" r="1.3"/><circle cx="412.1" cy="593.8" r="1.3"/><circle cx="403.5" cy="593.4" r="1.3"/><circle cx="404.5" cy="523.4" r="1.3"/><circle cx="421.4" cy="593.2" r="1.3"/><circle cx="426.4" cy="539.4" r="1.3"/><circle cx="409.4" cy="576.0" r="1.3"/><circle cx="407.3" cy="630.0" r="1.3"/><circle cx="441.3" cy="543.3" r="1.3"/><circle cx="413.7" cy="593.2" r="1.3"/><circle cx="409.1" cy="587.8" r="1.3"/><circle cx="446.9" cy="581.2" r="1.3"/><circle cx="419.0" cy="545.2" r="1.3"/><circle cx="423.5" cy="617.3" r="1.3"/><circle cx="451.1" cy="578.1" r="1.3"/><circle cx="410.7" cy="566.2" r="1.3"/><circle cx="412.6" cy="582.9" r="1.3"/><circle cx="411.1" cy="571.2" r="1.3"/><circle cx="407.6" cy="583.5" r="1.3"/><circle cx="457.2" cy="590.9" r="1.3"/><circle cx="429.9" cy="539.6" r="1.3"/><circle cx="427.7" cy="598.3" r="1.3"/><circle cx="400.7" cy="587.4" r="1.3"/><circle cx="428.7" cy="594.0" r="1.3"/><circle cx="420.7" cy="582.9" r="1.3"/><circle cx="407.1" cy="593.8" r="1.3"/><circle cx="403.9" cy="585.5" r="1.3"/><circle cx="422.0" cy="599.0" r="1.3"/><circle cx="419.9" cy="585.5" r="1.3"/><circle cx="403.0" cy="624.7" r="1.3"/><circle cx="404.2" cy="580.5" r="1.3"/><circle cx="409.0" cy="593.3" r="1.3"/><circle cx="408.2" cy="631.5" r="1.3"/><circle cx="425.9" cy="587.3" r="1.3"/><circle cx="436.4" cy="578.8" r="1.3"/><circle cx="413.9" cy="564.1" r="1.3"/><circle cx="404.6" cy="579.7" r="1.3"/><circle cx="407.5" cy="576.0" r="1.3"/><circle cx="404.5" cy="556.6" r="1.3"/><circle cx="410.9" cy="606.8" r="1.3"/><circle cx="431.0" cy="593.6" r="1.3"/><circle cx="412.8" cy="544.6" r="1.3"/><circle cx="407.1" cy="579.1" r="1.3"/><circle cx="418.1" cy="574.8" r="1.3"/><circle cx="403.1" cy="558.1" r="1.3"/><circle cx="424.0" cy="604.0" r="1.3"/><circle cx="423.4" cy="594.7" r="1.3"/><circle cx="409.9" cy="598.9" r="1.3"/><circle cx="422.3" cy="578.4" r="1.3"/><circle cx="426.7" cy="555.0" r="1.3"/><circle cx="442.9" cy="592.4" r="1.3"/><circle cx="411.4" cy="539.1" r="1.3"/><circle cx="426.9" cy="573.8" r="1.3"/><circle cx="413.7" cy="524.1" r="1.3"/><circle cx="416.8" cy="600.2" r="1.3"/><circle cx="403.3" cy="573.5" r="1.3"/><circle cx="413.3" cy="578.2" r="1.3"/><circle cx="402.8" cy="587.5" r="1.3"/><circle cx="414.9" cy="576.3" r="1.3"/><circle cx="427.8" cy="579.2" r="1.3"/><circle cx="424.7" cy="570.1" r="1.3"/><circle cx="412.7" cy="562.5" r="1.3"/><circle cx="460.1" cy="606.9" r="1.3"/><circle cx="412.2" cy="543.0" r="1.3"/><circle cx="430.1" cy="574.7" r="1.3"/><circle cx="409.7" cy="581.4" r="1.3"/><circle cx="412.3" cy="580.4" r="1.3"/><circle cx="445.9" cy="618.6" r="1.3"/><circle cx="428.5" cy="581.8" r="1.3"/><circle cx="409.8" cy="588.6" r="1.3"/><circle cx="411.6" cy="563.3" r="1.3"/><circle cx="410.5" cy="532.6" r="1.3"/><circle cx="399.2" cy="543.6" r="1.3"/><circle cx="407.1" cy="581.8" r="1.3"/><circle cx="407.0" cy="593.5" r="1.3"/><circle cx="412.1" cy="565.9" r="1.3"/><circle cx="402.7" cy="622.0" r="1.3"/><circle cx="415.4" cy="623.4" r="1.3"/><circle cx="409.6" cy="584.6" r="1.3"/><circle cx="407.9" cy="592.8" r="1.3"/><circle cx="422.8" cy="583.9" r="1.3"/><circle cx="410.1" cy="554.2" r="1.3"/><circle cx="412.4" cy="567.4" r="1.3"/><circle cx="430.5" cy="551.7" r="1.3"/><circle cx="440.7" cy="589.9" r="1.3"/><circle cx="406.7" cy="604.2" r="1.3"/><circle cx="416.2" cy="584.5" r="1.3"/><circle cx="416.1" cy="593.6" r="1.3"/><circle cx="435.7" cy="576.9" r="1.3"/><circle cx="410.0" cy="601.6" r="1.3"/><circle cx="428.2" cy="630.7" r="1.3"/><circle cx="459.7" cy="569.9" r="1.3"/><circle cx="415.7" cy="592.1" r="1.3"/><circle cx="415.4" cy="591.5" r="1.3"/><circle cx="414.1" cy="598.0" r="1.3"/><circle cx="451.6" cy="610.5" r="1.3"/><circle cx="412.1" cy="622.3" r="1.3"/><circle cx="398.0" cy="586.7" r="1.3"/><circle cx="426.5" cy="581.5" r="1.3"/><circle cx="414.7" cy="588.8" r="1.3"/><circle cx="412.0" cy="580.8" r="1.3"/><circle cx="425.4" cy="584.6" r="1.3"/><circle cx="433.9" cy="549.1" r="1.3"/><circle cx="405.7" cy="592.9" r="1.3"/><circle cx="420.6" cy="582.1" r="1.3"/><circle cx="447.3" cy="601.7" r="1.3"/><circle cx="404.2" cy="617.7" r="1.3"/><circle cx="403.6" cy="582.6" r="1.3"/><circle cx="443.4" cy="590.8" r="1.3"/><circle cx="414.2" cy="591.9" r="1.3"/><circle cx="402.3" cy="606.7" r="1.3"/><circle cx="409.2" cy="600.4" r="1.3"/><circle cx="415.9" cy="622.8" r="1.3"/><circle cx="416.7" cy="594.4" r="1.3"/><circle cx="415.3" cy="575.6" r="1.3"/><circle cx="414.4" cy="566.8" r="1.3"/><circle cx="413.9" cy="543.1" r="1.3"/><circle cx="437.7" cy="594.2" r="1.3"/><circle cx="400.5" cy="582.3" r="1.3"/><circle cx="415.6" cy="587.8" r="1.3"/><circle cx="418.8" cy="549.4" r="1.3"/><circle cx="435.9" cy="564.2" r="1.3"/><circle cx="422.0" cy="630.8" r="1.3"/><circle cx="422.5" cy="621.8" r="1.3"/><circle cx="402.2" cy="574.1" r="1.3"/><circle cx="446.4" cy="578.1" r="1.3"/><circle cx="420.1" cy="617.0" r="1.3"/><circle cx="411.7" cy="600.9" r="1.3"/><circle cx="419.8" cy="556.8" r="1.3"/><circle cx="457.5" cy="625.6" r="1.3"/><circle cx="423.6" cy="590.7" r="1.3"/><circle cx="402.0" cy="568.1" r="1.3"/><circle cx="412.1" cy="590.0" r="1.3"/><circle cx="432.9" cy="567.3" r="1.3"/><circle cx="416.3" cy="582.6" r="1.3"/><circle cx="443.7" cy="540.1" r="1.3"/><circle cx="408.1" cy="575.6" r="1.3"/><circle cx="415.5" cy="561.8" r="1.3"/><circle cx="430.7" cy="595.5" r="1.3"/><circle cx="411.9" cy="598.2" r="1.3"/><circle cx="414.6" cy="561.6" r="1.3"/><circle cx="408.6" cy="589.4" r="1.3"/><circle cx="434.6" cy="624.2" r="1.3"/><circle cx="405.0" cy="621.2" r="1.3"/><circle cx="410.9" cy="540.4" r="1.3"/><circle cx="418.5" cy="573.9" r="1.3"/><circle cx="403.7" cy="581.9" r="1.3"/><circle cx="424.5" cy="595.6" r="1.3"/><circle cx="428.4" cy="586.9" r="1.3"/><circle cx="409.4" cy="591.0" r="1.3"/><circle cx="411.2" cy="604.9" r="1.3"/><circle cx="421.8" cy="585.6" r="1.3"/><circle cx="423.3" cy="577.0" r="1.3"/><circle cx="406.5" cy="589.2" r="1.3"/><circle cx="421.0" cy="593.4" r="1.3"/><circle cx="415.1" cy="593.1" r="1.3"/><circle cx="442.3" cy="617.8" r="1.3"/><circle cx="406.1" cy="596.8" r="1.3"/><circle cx="420.1" cy="633.2" r="1.3"/><circle cx="408.9" cy="623.3" r="1.3"/><circle cx="409.3" cy="577.6" r="1.3"/><circle cx="445.3" cy="566.9" r="1.3"/><circle cx="415.2" cy="544.7" r="1.3"/><circle cx="430.1" cy="597.0" r="1.3"/><circle cx="407.7" cy="593.6" r="1.3"/><circle cx="418.3" cy="586.6" r="1.3"/><circle cx="437.1" cy="562.2" r="1.3"/><circle cx="452.2" cy="606.2" r="1.3"/><circle cx="413.0" cy="622.1" r="1.3"/><circle cx="405.5" cy="571.9" r="1.3"/><circle cx="436.4" cy="537.2" r="1.3"/><circle cx="416.4" cy="564.8" r="1.3"/><circle cx="411.2" cy="562.5" r="1.3"/><circle cx="404.7" cy="578.5" r="1.3"/><circle cx="407.7" cy="567.6" r="1.3"/><circle cx="432.9" cy="599.0" r="1.3"/><circle cx="430.5" cy="563.1" r="1.3"/><circle cx="403.6" cy="566.4" r="1.3"/><circle cx="424.3" cy="558.6" r="1.3"/><circle cx="418.7" cy="569.7" r="1.3"/><circle cx="415.7" cy="621.3" r="1.3"/><circle cx="413.2" cy="593.0" r="1.3"/><circle cx="403.6" cy="584.0" r="1.3"/><circle cx="428.7" cy="574.4" r="1.3"/><circle cx="413.5" cy="595.1" r="1.3"/><circle cx="419.2" cy="548.0" r="1.3"/><circle cx="407.4" cy="578.2" r="1.3"/><circle cx="413.1" cy="615.4" r="1.3"/><circle cx="414.1" cy="557.1" r="1.3"/><circle cx="403.1" cy="547.5" r="1.3"/><circle cx="413.5" cy="586.8" r="1.3"/><circle cx="420.3" cy="583.3" r="1.3"/><circle cx="413.6" cy="548.9" r="1.3"/><circle cx="430.5" cy="621.1" r="1.3"/><circle cx="434.7" cy="570.7" r="1.3"/><circle cx="405.5" cy="633.7" r="1.3"/><circle cx="410.6" cy="572.7" r="1.3"/><circle cx="415.8" cy="598.6" r="1.3"/><circle cx="429.9" cy="571.4" r="1.3"/><circle cx="431.1" cy="538.8" r="1.3"/><circle cx="414.3" cy="625.6" r="1.3"/><circle cx="414.4" cy="599.8" r="1.3"/><circle cx="450.3" cy="601.4" r="1.3"/><circle cx="406.1" cy="567.1" r="1.3"/><circle cx="429.5" cy="590.1" r="1.3"/><circle cx="410.8" cy="600.1" r="1.3"/><circle cx="401.5" cy="596.7" r="1.3"/><circle cx="410.0" cy="586.9" r="1.3"/><circle cx="402.4" cy="515.4" r="1.3"/><circle cx="404.8" cy="519.2" r="1.3"/><circle cx="407.3" cy="520.7" r="1.3"/><circle cx="418.6" cy="522.8" r="1.3"/><circle cx="438.6" cy="522.8" r="1.3"/><circle cx="449.9" cy="523.3" r="1.3"/><circle cx="428.6" cy="527.7" r="1.3"/><circle cx="441.8" cy="534.5" r="1.3"/><circle cx="432.2" cy="537.3" r="1.3"/><circle cx="432.2" cy="539.9" r="1.3"/><circle cx="445.2" cy="544.1" r="1.3"/><circle cx="442.4" cy="547.3" r="1.3"/><circle cx="439.9" cy="554.3" r="1.3"/><circle cx="449.9" cy="562.4" r="1.3"/><circle cx="452.0" cy="567.1" r="1.3"/><circle cx="452.0" cy="573.5" r="1.3"/><circle cx="452.0" cy="575.2" r="1.3"/><circle cx="452.0" cy="579.9" r="1.3"/><circle cx="447.8" cy="581.4" r="1.3"/><circle cx="449.9" cy="592.2" r="1.3"/><circle cx="453.1" cy="592.2" r="1.3"/><circle cx="451.0" cy="599.0" r="1.3"/><circle cx="447.8" cy="605.4" r="1.3"/><circle cx="451.0" cy="610.3" r="1.3"/><circle cx="461.6" cy="602.2" r="1.3"/><circle cx="461.6" cy="604.3" r="1.3"/><circle cx="473.3" cy="565.4" r="1.3"/><circle cx="473.3" cy="568.2" r="1.3"/><circle cx="473.3" cy="570.9" r="1.3"/><circle cx="473.3" cy="573.5" r="1.3"/><circle cx="473.3" cy="576.3" r="1.3"/><circle cx="489.9" cy="597.3" r="1.3"/><circle cx="486.7" cy="609.7" r="1.3"/><circle cx="490.3" cy="625.6" r="1.3"/><circle cx="486.7" cy="633.1" r="1.3"/><circle cx="461.6" cy="628.4" r="1.3"/><circle cx="406.3" cy="634.5" r="1.3"/><circle cx="406.3" cy="639.9" r="1.3"/><circle cx="414.1" cy="626.7" r="1.3"/><circle cx="414.1" cy="630.9" r="1.3"/><circle cx="414.1" cy="638.4" r="1.3"/><circle cx="419.5" cy="633.1" r="1.3"/><circle cx="419.5" cy="635.6" r="1.3"/><circle cx="425.4" cy="634.1" r="1.3"/><circle cx="425.4" cy="637.3" r="1.3"/><circle cx="431.8" cy="633.5" r="1.3"/><circle cx="431.8" cy="637.3" r="1.3"/><circle cx="409.5" cy="620.3" r="1.3"/><circle cx="411.6" cy="620.9" r="1.3"/><circle cx="413.7" cy="621.6" r="1.3"/><circle cx="416.9" cy="622.0" r="1.3"/><circle cx="396.7" cy="596.9" r="1.3"/><circle cx="396.7" cy="598.6" r="1.3"/><circle cx="396.7" cy="600.3" r="1.3"/><circle cx="396.7" cy="602.0" r="1.3"/><circle cx="396.7" cy="603.7" r="1.3"/><circle cx="396.7" cy="605.4" r="1.3"/><circle cx="396.7" cy="607.1" r="1.3"/><circle cx="513.5" cy="610.9" r="1.3"/><circle cx="513.5" cy="634.4" r="1.3"/><circle cx="588.0" cy="615.4" r="1.3"/><circle cx="588.0" cy="636.9" r="1.3"/></g></g>
</svg>
</body></html>
